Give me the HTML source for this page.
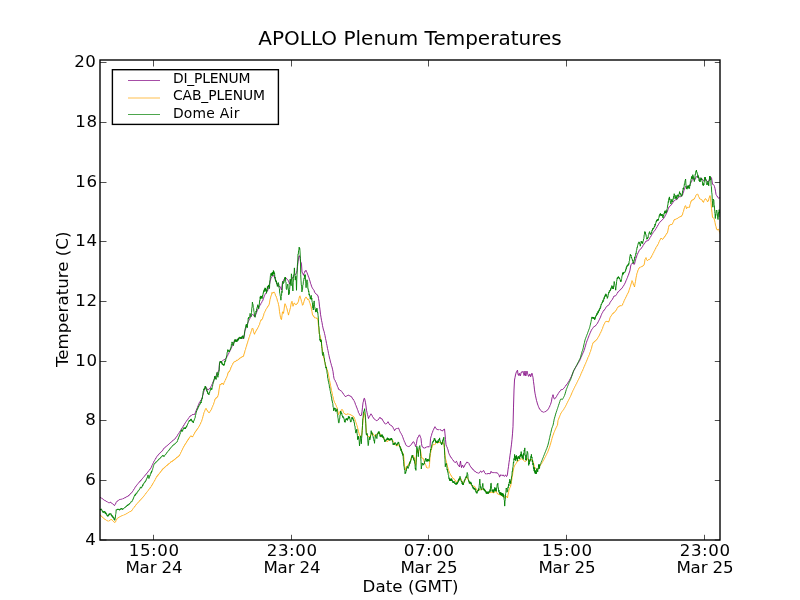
<!DOCTYPE html>
<html><head><meta charset="utf-8"><title>APOLLO Plenum Temperatures</title>
<style>
html,body{margin:0;padding:0;background:#fff;}
svg{display:block;}
text{font-family:"DejaVu Sans","Liberation Sans",sans-serif;fill:#000;}
.tk{font-size:16.67px;}.dg{letter-spacing:0.55px;}
.lg{font-size:13.9px;}
</style></head><body>
<svg width="800" height="600" viewBox="0 0 800 600">
<rect width="800" height="600" fill="#fff"/>
<defs><clipPath id="cp"><rect x="100" y="60" width="620" height="480"/></clipPath></defs>
<g clip-path="url(#cp)" fill="none" stroke-width="0.85" stroke-linejoin="round">
<path stroke="#800080" d="M100.0 496.9 L100.5 497.5 L101.0 497.6 L101.5 498.2 L102.0 498.2 L102.5 498.8 L103.0 499.1 L103.5 499.7 L104.0 499.8 L104.5 500.3 L105.0 500.3 L105.5 501.0 L106.0 500.9 L106.5 501.5 L107.0 501.5 L107.5 502.0 L108.0 502.1 L108.5 502.7 L109.0 502.6 L109.5 502.8 L110.0 502.2 L110.5 502.3 L111.0 502.4 L111.5 503.2 L112.0 503.3 L112.5 503.8 L113.0 503.9 L113.5 504.7 L114.0 504.8 L114.5 505.6 L115.0 504.7 L115.5 504.1 L116.0 502.7 L116.5 502.0 L117.0 501.2 L117.5 501.2 L118.0 500.4 L118.5 500.3 L119.0 499.8 L119.5 499.6 L120.0 499.2 L120.5 499.4 L121.0 499.0 L121.5 499.2 L122.0 498.8 L122.5 499.0 L123.0 498.5 L123.5 498.5 L124.0 497.9 L124.5 498.1 L125.0 497.4 L125.5 497.6 L126.0 496.8 L126.5 497.0 L127.0 496.4 L127.5 496.4 L128.0 495.8 L128.5 496.0 L129.0 495.0 L129.5 494.9 L130.0 494.1 L130.5 493.8 L131.0 493.0 L131.5 492.9 L132.0 492.1 L132.5 491.7 L133.0 490.6 L133.5 490.2 L134.0 489.1 L134.5 488.6 L135.0 487.5 L135.5 486.9 L136.0 485.9 L136.5 485.6 L137.0 484.6 L137.5 484.3 L138.0 483.5 L138.5 483.1 L139.0 482.3 L139.5 482.0 L140.0 481.1 L140.5 481.0 L141.0 480.0 L141.5 479.8 L142.0 478.9 L142.5 478.5 L143.0 477.7 L143.5 477.3 L144.0 476.6 L144.5 476.2 L145.0 475.3 L145.5 475.0 L146.0 474.2 L146.5 473.8 L147.0 472.9 L147.5 472.6 L148.0 471.5 L148.5 471.3 L149.0 470.4 L149.5 470.0 L150.0 469.1 L150.5 468.8 L151.0 467.8 L151.5 467.0 L152.0 465.5 L152.5 464.8 L153.0 463.4 L153.5 462.6 L154.0 461.2 L154.5 460.6 L155.0 459.4 L155.5 459.0 L156.0 457.9 L156.5 457.3 L157.0 456.3 L157.5 455.8 L158.0 454.9 L158.5 454.7 L159.0 453.8 L159.5 453.6 L160.0 452.8 L160.5 452.6 L161.0 451.8 L161.5 451.6 L162.0 450.8 L162.5 450.7 L163.0 449.9 L163.5 448.8 L164.0 448.1 L164.5 448.1 L165.0 447.3 L165.5 447.1 L166.0 446.4 L166.5 446.2 L167.0 445.6 L167.5 445.4 L168.0 444.7 L168.5 444.5 L169.0 443.8 L169.5 443.6 L170.0 442.9 L170.5 442.7 L171.0 442.0 L171.5 441.9 L172.0 441.2 L172.5 441.0 L173.0 440.2 L173.5 440.1 L174.0 439.5 L174.5 439.3 L175.0 438.5 L175.5 438.3 L176.0 437.4 L176.5 436.9 L177.0 435.8 L177.5 435.4 L178.0 434.3 L178.5 433.8 L179.0 432.8 L179.5 432.3 L180.0 431.1 L180.5 430.7 L181.0 429.7 L181.5 429.0 L182.0 428.0 L182.5 427.4 L183.0 426.3 L183.5 426.0 L184.0 424.9 L184.5 424.3 L185.0 423.1 L185.5 422.7 L186.0 421.5 L186.5 421.2 L187.0 420.3 L187.5 419.8 L188.0 418.7 L188.5 418.4 L189.0 417.4 L189.5 417.0 L190.0 416.2 L190.5 416.1 L191.0 415.3 L191.5 415.3 L192.0 414.8 L192.5 414.7 L193.0 414.0 L193.5 414.5 L194.0 414.1 L194.5 414.5 L195.0 413.3 L195.5 412.3 L196.0 410.8 L196.5 410.0 L197.0 408.3 L197.5 407.4 L198.0 405.9 L198.5 404.9 L199.0 403.4 L199.5 402.3 L200.0 401.4 L200.5 401.0 L201.0 400.0 L201.5 399.6 L202.0 398.1 L202.5 396.6 L203.0 394.2 L203.5 392.7 L204.0 390.8 L204.5 390.0 L205.0 388.6 L205.5 387.7 L206.0 387.1 L206.5 388.1 L207.0 388.7 L207.5 390.0 L208.0 389.9 L208.5 389.7 L209.0 388.8 L209.5 388.6 L210.0 387.9 L210.5 387.7 L211.0 386.5 L211.5 385.8 L212.0 384.3 L212.5 383.4 L213.0 382.0 L213.5 381.3 L214.0 379.9 L214.5 379.2 L215.0 377.8 L215.5 377.2 L216.0 375.8 L216.5 375.1 L217.0 373.8 L217.5 373.2 L218.0 371.9 L218.5 371.1 L219.0 369.9 L219.5 362.9 L220.0 362.3 L220.5 362.2 L221.0 361.5 L221.5 361.5 L222.0 361.0 L222.5 360.8 L223.0 360.3 L223.5 360.1 L224.0 359.5 L224.5 359.6 L225.0 359.0 L225.5 358.9 L226.0 358.3 L226.5 357.9 L227.0 356.6 L227.5 355.9 L228.0 354.6 L228.5 353.9 L229.0 352.7 L229.5 351.9 L230.0 350.7 L230.5 349.9 L231.0 348.5 L231.5 347.7 L232.0 346.4 L232.5 345.5 L233.0 344.2 L233.5 343.4 L234.0 341.9 L234.5 341.1 L235.0 340.5 L235.5 340.6 L236.0 340.0 L236.5 340.0 L237.0 339.4 L237.5 339.5 L238.0 338.9 L238.5 338.9 L239.0 338.3 L239.5 338.2 L240.0 337.9 L240.5 338.2 L241.0 338.0 L241.5 338.3 L242.0 338.0 L242.5 338.4 L243.0 338.0 L243.5 338.4 L244.0 336.8 L244.5 334.0 L245.0 330.4 L245.5 329.3 L246.0 327.7 L246.5 326.6 L247.0 324.8 L247.5 323.9 L248.0 322.0 L248.5 321.4 L249.0 320.1 L249.5 319.4 L250.0 318.2 L250.5 317.5 L251.0 316.4 L251.5 315.7 L252.0 314.6 L252.5 314.1 L253.0 314.6 L253.5 315.4 L254.0 315.8 L254.5 316.8 L255.0 316.3 L255.5 315.3 L256.0 313.8 L256.5 312.8 L257.0 311.2 L257.5 310.3 L258.0 308.8 L258.5 308.3 L259.0 307.0 L259.5 306.4 L260.0 305.2 L260.5 304.7 L261.0 303.4 L261.5 302.8 L262.0 301.6 L262.5 301.1 L263.0 299.9 L263.5 298.6 L264.0 296.8 L264.5 295.7 L265.0 294.6 L265.5 293.9 L266.0 292.9 L266.5 292.5 L267.0 291.5 L267.5 291.1 L268.0 289.5 L268.5 288.5 L269.0 286.9 L269.5 284.6 L270.0 281.9 L270.5 280.2 L271.0 277.8 L271.5 277.5 L272.0 276.5 L272.5 276.1 L273.0 275.6 L273.5 275.9 L274.0 275.3 L274.5 277.2 L275.0 278.4 L275.5 280.2 L276.0 281.1 L276.5 282.7 L277.0 283.9 L277.5 284.9 L278.0 285.1 L278.5 286.2 L279.0 286.0 L279.5 286.5 L280.0 286.4 L280.5 287.8 L281.0 288.7 L281.5 290.2 L282.0 285.9 L282.5 282.1 L283.0 280.9 L283.5 280.5 L284.0 279.3 L284.5 278.7 L285.0 277.9 L285.5 277.7 L286.0 277.8 L286.5 278.6 L287.0 278.9 L287.5 279.7 L288.0 280.2 L288.5 281.1 L289.0 282.4 L289.5 284.1 L290.0 282.6 L290.5 281.5 L291.0 279.9 L291.5 279.6 L292.0 278.5 L292.5 278.2 L293.0 277.0 L293.5 276.5 L294.0 275.2 L294.5 274.7 L295.0 274.2 L295.5 274.4 L296.0 273.8 L296.5 272.6 L297.0 270.8 L297.5 266.7 L298.0 261.9 L298.5 259.1 L299.0 255.9 L299.5 255.8 L300.0 257.3 L300.5 261.3 L301.0 262.2 L301.5 264.1 L302.0 271.9 L302.5 273.1 L303.0 273.9 L303.5 275.3 L304.0 273.4 L304.5 272.7 L305.0 270.9 L305.5 271.1 L306.0 270.3 L306.5 271.9 L307.0 272.6 L307.5 274.1 L308.0 275.2 L308.5 277.0 L309.0 277.8 L309.5 279.8 L310.0 281.1 L310.5 283.3 L311.0 284.4 L311.5 286.2 L312.0 287.3 L312.5 288.4 L313.0 288.7 L313.5 289.7 L314.0 290.3 L314.5 292.0 L315.0 292.8 L315.5 293.5 L316.0 293.6 L316.5 294.4 L317.0 294.4 L317.5 295.6 L318.0 295.7 L318.5 298.6 L319.0 301.4 L319.5 306.2 L320.0 309.7 L320.5 314.3 L321.0 317.2 L321.5 320.3 L322.0 322.4 L322.5 325.6 L323.0 327.9 L323.5 330.0 L324.0 331.2 L324.5 333.5 L325.0 335.5 L325.5 338.4 L326.0 340.5 L326.5 343.4 L327.0 345.5 L327.5 348.5 L328.0 350.5 L328.5 353.4 L329.0 355.5 L329.5 358.0 L330.0 359.6 L330.5 362.1 L331.0 363.5 L331.5 365.7 L332.0 367.0 L332.5 369.2 L333.0 371.5 L333.5 375.4 L334.0 378.3 L334.5 379.7 L335.0 380.2 L335.5 381.7 L336.0 382.3 L336.5 383.8 L337.0 384.9 L337.5 386.6 L338.0 387.4 L338.5 389.2 L339.0 389.1 L339.5 389.9 L340.0 390.0 L340.5 390.7 L341.0 390.6 L341.5 391.3 L342.0 391.7 L342.5 392.8 L343.0 393.1 L343.5 394.2 L344.0 394.6 L344.5 395.6 L345.0 395.9 L345.5 396.7 L346.0 396.0 L346.5 396.2 L347.0 395.5 L347.5 395.5 L348.0 395.0 L348.5 395.2 L349.0 395.1 L349.5 395.9 L350.0 395.8 L350.5 396.2 L351.0 396.2 L351.5 397.2 L352.0 397.3 L352.5 398.7 L353.0 398.9 L353.5 400.0 L354.0 400.4 L354.5 401.8 L355.0 402.8 L355.5 404.6 L356.0 405.5 L356.5 407.1 L357.0 408.0 L357.5 409.7 L358.0 410.7 L358.5 412.7 L359.0 413.2 L359.5 414.7 L360.0 415.3 L360.5 416.0 L361.0 415.0 L361.5 415.1 L362.0 411.7 L362.5 407.2 L363.0 402.8 L363.5 401.1 L364.0 398.4 L364.5 398.4 L365.0 400.2 L365.5 402.8 L366.0 406.0 L366.5 410.2 L367.0 412.4 L367.5 414.7 L368.0 416.3 L368.5 418.5 L369.0 417.2 L369.5 416.6 L370.0 415.3 L370.5 415.0 L371.0 413.8 L371.5 414.7 L372.0 415.1 L372.5 416.6 L373.0 417.2 L373.5 418.2 L374.0 418.4 L374.5 419.2 L375.0 419.4 L375.5 420.1 L376.0 420.3 L376.5 420.7 L377.0 420.0 L377.5 420.3 L378.0 419.6 L378.5 419.5 L379.0 418.3 L379.5 418.1 L380.0 417.3 L380.5 418.3 L381.0 418.1 L381.5 418.8 L382.0 418.7 L382.5 420.2 L383.0 420.4 L383.5 421.7 L384.0 422.1 L384.5 423.2 L385.0 423.4 L385.5 424.1 L386.0 423.9 L386.5 423.6 L387.0 422.9 L387.5 422.7 L388.0 421.7 L388.5 423.0 L389.0 423.3 L389.5 424.5 L390.0 424.5 L390.5 425.2 L391.0 425.1 L391.5 425.9 L392.0 426.0 L392.5 426.8 L393.0 427.2 L393.5 428.7 L394.0 429.3 L394.5 430.7 L395.0 430.0 L395.5 428.9 L396.0 428.6 L396.5 428.6 L397.0 428.1 L397.5 428.4 L398.0 427.9 L398.5 428.1 L399.0 429.1 L399.5 430.6 L400.0 431.6 L400.5 432.7 L401.0 433.3 L401.5 434.4 L402.0 435.0 L402.5 436.5 L403.0 437.7 L403.5 439.3 L404.0 440.4 L404.5 441.9 L405.0 442.6 L405.5 444.2 L406.0 445.1 L406.5 445.7 L407.0 445.7 L407.5 446.3 L408.0 446.1 L408.5 446.6 L409.0 446.5 L409.5 446.4 L410.0 445.5 L410.5 445.4 L411.0 444.6 L411.5 444.3 L412.0 443.2 L412.5 443.0 L413.0 441.9 L413.5 441.7 L414.0 442.2 L414.5 443.7 L415.0 444.4 L415.5 446.6 L416.0 445.7 L416.5 443.2 L417.0 439.8 L417.5 438.2 L418.0 437.0 L418.5 436.8 L419.0 435.3 L419.5 434.8 L420.0 435.9 L420.5 437.3 L421.0 438.4 L421.5 443.6 L422.0 446.2 L422.5 447.0 L423.0 446.9 L423.5 447.9 L424.0 447.9 L424.5 448.2 L425.0 447.5 L425.5 447.8 L426.0 446.9 L426.5 447.1 L427.0 446.6 L427.5 447.0 L428.0 446.4 L428.5 446.8 L429.0 446.6 L429.5 447.1 L430.0 446.6 L430.5 438.8 L431.0 436.7 L431.5 435.4 L432.0 433.2 L432.5 432.3 L433.0 430.6 L433.5 429.8 L434.0 428.2 L434.5 428.0 L435.0 426.7 L435.5 427.6 L436.0 428.3 L436.5 429.2 L437.0 429.0 L437.5 429.6 L438.0 429.4 L438.5 429.9 L439.0 429.5 L439.5 430.0 L440.0 429.5 L440.5 429.9 L441.0 429.8 L441.5 430.6 L442.0 430.7 L442.5 431.0 L443.0 430.0 L443.5 429.9 L444.0 429.1 L444.5 429.1 L445.0 433.9 L445.5 439.6 L446.0 444.5 L446.5 446.3 L447.0 446.9 L447.5 448.7 L448.0 449.9 L448.5 452.3 L449.0 453.6 L449.5 454.9 L450.0 455.7 L450.5 456.9 L451.0 457.1 L451.5 458.2 L452.0 458.5 L452.5 459.5 L453.0 460.0 L453.5 461.0 L454.0 461.3 L454.5 462.2 L455.0 462.6 L455.5 462.5 L456.0 461.5 L456.5 461.3 L457.0 462.4 L457.5 464.1 L458.0 464.9 L458.5 465.7 L459.0 465.8 L459.5 466.8 L460.0 463.4 L460.5 461.1 L461.0 464.8 L461.5 467.6 L462.0 466.1 L462.5 465.1 L463.0 465.9 L463.5 467.6 L464.0 467.1 L464.5 466.1 L465.0 464.5 L465.5 464.3 L466.0 463.2 L466.5 462.9 L467.0 461.9 L467.5 462.6 L468.0 462.3 L468.5 463.0 L469.0 463.5 L469.5 465.1 L470.0 465.6 L470.5 466.7 L471.0 466.9 L471.5 467.9 L472.0 468.1 L472.5 469.2 L473.0 469.2 L473.5 470.1 L474.0 470.3 L474.5 471.2 L475.0 471.1 L475.5 471.8 L476.0 471.8 L476.5 472.5 L477.0 472.5 L477.5 473.0 L478.0 472.6 L478.5 473.3 L479.0 473.0 L479.5 472.7 L480.0 471.6 L480.5 471.2 L481.0 471.2 L481.5 472.2 L482.0 472.3 L482.5 471.8 L483.0 470.9 L483.5 470.4 L484.0 470.9 L484.5 472.5 L485.0 472.9 L485.5 473.8 L486.0 473.4 L486.5 474.2 L487.0 473.7 L487.5 473.9 L488.0 473.2 L488.5 473.7 L489.0 473.0 L489.5 473.8 L490.0 473.6 L490.5 473.4 L491.0 471.4 L491.5 472.2 L492.0 471.9 L492.5 472.6 L493.0 472.3 L493.5 472.6 L494.0 472.2 L494.5 472.7 L495.0 472.3 L495.5 472.7 L496.0 472.4 L496.5 472.8 L497.0 472.5 L497.5 473.3 L498.0 473.5 L498.5 474.4 L499.0 474.9 L499.5 476.9 L500.0 476.5 L500.5 475.0 L501.0 474.6 L501.5 475.3 L502.0 475.4 L502.5 475.6 L503.0 474.8 L503.5 475.7 L504.0 475.5 L504.5 476.4 L505.0 475.5 L505.5 475.2 L506.0 475.4 L506.5 476.5 L507.0 476.1 L507.5 474.0 L508.0 469.8 L508.5 466.6 L509.0 462.5 L509.5 459.3 L510.0 455.2 L510.5 452.2 L511.0 448.0 L511.5 444.2 L512.0 439.4 L512.5 433.8 L513.0 426.5 L513.5 407.1 L514.0 390.0 L514.5 380.0 L515.0 377.5 L515.5 375.0 L516.0 373.1 L516.5 371.7 L517.0 370.8 L517.5 370.2 L518.0 374.2 L518.5 375.4 L519.0 373.6 L519.5 373.5 L520.0 376.0 L520.5 375.5 L521.0 373.0 L521.5 371.9 L522.0 372.3 L522.5 372.2 L523.0 371.3 L523.5 372.7 L524.0 375.6 L524.5 375.0 L525.0 371.0 L525.5 375.5 L526.0 376.0 L526.5 372.4 L527.0 371.1 L527.5 373.2 L528.0 374.9 L528.5 376.3 L529.0 376.1 L529.5 374.3 L530.0 374.1 L530.5 376.8 L531.0 376.2 L531.5 373.8 L532.0 373.2 L532.5 375.3 L533.0 377.5 L533.5 381.7 L534.0 385.3 L534.5 389.9 L535.0 393.2 L535.5 395.8 L536.0 398.1 L536.5 400.5 L537.0 402.1 L537.5 404.0 L538.0 405.3 L538.5 406.7 L539.0 407.8 L539.5 409.0 L540.0 409.3 L540.5 410.1 L541.0 410.5 L541.5 411.3 L542.0 411.3 L542.5 411.9 L543.0 411.7 L543.5 412.3 L544.0 412.0 L544.5 412.0 L545.0 411.5 L545.5 411.6 L546.0 411.0 L546.5 411.0 L547.0 410.2 L547.5 410.0 L548.0 409.4 L548.5 408.8 L549.0 407.6 L549.5 407.0 L550.0 405.4 L550.5 404.5 L551.0 402.9 L551.5 401.2 L552.0 397.8 L552.5 396.6 L553.0 394.7 L553.5 396.7 L554.0 398.7 L554.5 398.8 L555.0 398.6 L555.5 398.2 L556.0 397.1 L556.5 396.6 L557.0 395.5 L557.5 395.0 L558.0 393.8 L558.5 393.3 L559.0 392.2 L559.5 391.8 L560.0 391.0 L560.5 390.6 L561.0 389.6 L561.5 389.8 L562.0 389.2 L562.5 389.5 L563.0 388.9 L563.5 388.7 L564.0 387.8 L564.5 387.5 L565.0 386.5 L565.5 386.1 L566.0 385.1 L566.5 384.9 L567.0 383.9 L567.5 383.5 L568.0 382.5 L568.5 381.9 L569.0 380.7 L569.5 380.3 L570.0 379.1 L570.5 378.3 L571.0 377.0 L571.5 376.3 L572.0 374.9 L572.5 374.0 L573.0 372.4 L573.5 371.6 L574.0 370.3 L574.5 369.7 L575.0 368.4 L575.5 367.7 L576.0 366.6 L576.5 366.0 L577.0 365.0 L577.5 364.5 L578.0 363.4 L578.5 362.7 L579.0 361.7 L579.5 361.0 L580.0 359.8 L580.5 358.9 L581.0 357.4 L581.5 356.6 L582.0 355.0 L582.5 354.1 L583.0 352.8 L583.5 352.0 L584.0 350.5 L584.5 349.2 L585.0 347.3 L585.5 345.8 L586.0 343.8 L586.5 342.3 L587.0 340.8 L587.5 339.8 L588.0 338.2 L588.5 337.1 L589.0 335.6 L589.5 334.7 L590.0 333.1 L590.5 332.3 L591.0 330.9 L591.5 330.2 L592.0 329.1 L592.5 328.6 L593.0 327.6 L593.5 327.3 L594.0 326.5 L594.5 326.5 L595.0 325.8 L595.5 325.9 L596.0 325.0 L596.5 324.5 L597.0 323.6 L597.5 323.3 L598.0 322.1 L598.5 321.3 L599.0 320.2 L599.5 319.3 L600.0 318.1 L600.5 317.2 L601.0 315.7 L601.5 314.6 L602.0 313.3 L602.5 312.7 L603.0 311.3 L603.5 311.0 L604.0 310.1 L604.5 309.9 L605.0 308.8 L605.5 308.4 L606.0 307.3 L606.5 306.7 L607.0 306.0 L607.5 305.9 L608.0 305.2 L608.5 305.2 L609.0 304.6 L609.5 303.9 L610.0 302.6 L610.5 301.9 L611.0 300.9 L611.5 300.5 L612.0 299.6 L612.5 299.3 L613.0 298.0 L613.5 297.3 L614.0 296.0 L614.5 296.0 L615.0 295.7 L615.5 295.9 L616.0 295.2 L616.5 294.6 L617.0 293.4 L617.5 293.0 L618.0 291.8 L618.5 291.6 L619.0 290.9 L619.5 290.7 L620.0 289.8 L620.5 289.7 L621.0 288.8 L621.5 288.7 L622.0 287.8 L622.5 287.6 L623.0 286.5 L623.5 286.0 L624.0 284.9 L624.5 284.3 L625.0 283.1 L625.5 282.2 L626.0 280.7 L626.5 279.8 L627.0 278.4 L627.5 277.4 L628.0 275.8 L628.5 275.0 L629.0 273.0 L629.5 272.0 L630.0 270.1 L630.5 267.0 L631.0 264.6 L631.5 264.2 L632.0 263.4 L632.5 263.2 L633.0 263.0 L633.5 264.1 L634.0 264.5 L634.5 264.2 L635.0 261.9 L635.5 260.1 L636.0 258.1 L636.5 257.0 L637.0 255.0 L637.5 254.2 L638.0 252.9 L638.5 252.2 L639.0 250.9 L639.5 250.1 L640.0 249.3 L640.5 249.2 L641.0 248.4 L641.5 248.2 L642.0 247.2 L642.5 246.7 L643.0 245.5 L643.5 244.9 L644.0 243.8 L644.5 243.6 L645.0 242.5 L645.5 242.2 L646.0 241.1 L646.5 241.0 L647.0 240.6 L647.5 240.7 L648.0 240.3 L648.5 240.4 L649.0 239.2 L649.5 238.8 L650.0 237.6 L650.5 237.0 L651.0 236.0 L651.5 235.4 L652.0 234.2 L652.5 233.7 L653.0 232.7 L653.5 232.2 L654.0 231.3 L654.5 230.8 L655.0 229.9 L655.5 229.6 L656.0 228.3 L656.5 227.9 L657.0 226.6 L657.5 226.2 L658.0 224.9 L658.5 224.5 L659.0 223.3 L659.5 222.7 L660.0 221.8 L660.5 221.6 L661.0 220.9 L661.5 220.7 L662.0 219.9 L662.5 219.6 L663.0 218.8 L663.5 218.7 L664.0 217.9 L664.5 217.2 L665.0 216.1 L665.5 215.4 L666.0 214.3 L666.5 213.4 L667.0 212.1 L667.5 211.1 L668.0 209.5 L668.5 208.5 L669.0 206.8 L669.5 206.7 L670.0 205.9 L670.5 205.6 L671.0 204.8 L671.5 204.7 L672.0 203.9 L672.5 203.3 L673.0 202.1 L673.5 201.7 L674.0 200.9 L674.5 200.6 L675.0 199.9 L675.5 200.0 L676.0 199.4 L676.5 199.7 L677.0 198.9 L677.5 198.6 L678.0 197.8 L678.5 197.7 L679.0 196.9 L679.5 196.6 L680.0 196.4 L680.5 196.7 L681.0 196.4 L681.5 196.2 L682.0 195.3 L682.5 195.2 L683.0 193.4 L683.5 192.1 L684.0 190.4 L684.5 189.2 L685.0 187.6 L685.5 186.6 L686.0 186.4 L686.5 187.1 L687.0 186.8 L687.5 186.8 L688.0 186.4 L688.5 186.4 L689.0 185.8 L689.5 185.7 L690.0 184.3 L690.5 183.6 L691.0 182.3 L691.5 181.7 L692.0 180.3 L692.5 179.7 L693.0 179.4 L693.5 179.6 L694.0 179.9 L694.5 180.6 L695.0 179.4 L695.5 178.7 L696.0 177.4 L696.5 176.7 L697.0 176.0 L697.5 176.1 L698.0 176.8 L698.5 178.1 L699.0 178.2 L699.5 178.6 L700.0 178.2 L700.5 178.1 L701.0 178.2 L701.5 178.9 L702.0 178.8 L702.5 179.6 L703.0 179.9 L703.5 180.6 L704.0 179.7 L704.5 179.3 L705.0 178.4 L705.5 179.4 L706.0 179.9 L706.5 180.6 L707.0 180.9 L707.5 181.6 L708.0 181.3 L708.5 181.6 L709.0 180.1 L709.5 179.1 L710.0 178.1 L710.5 177.7 L711.0 177.4 L711.5 177.7 L712.0 180.9 L712.5 184.2 L713.0 184.1 L713.5 184.7 L714.0 185.4 L714.5 186.6 L715.0 188.5 L715.5 191.2 L716.0 194.4 L716.5 195.4 L717.0 195.9 L717.5 197.0 L718.0 197.3 L718.5 198.1 L719.0 198.3 L719.5 197.8 L720.0 197.4 L720.5 199.0"/>
<path stroke="#ffa500" d="M100.0 514.6 L100.5 515.5 L101.0 515.5 L101.5 516.4 L102.0 516.5 L102.5 517.4 L103.0 517.5 L103.5 518.2 L104.0 518.3 L104.5 519.2 L105.0 519.1 L105.5 519.7 L106.0 519.8 L106.5 520.3 L107.0 520.3 L107.5 521.0 L108.0 521.0 L108.5 521.2 L109.0 520.7 L109.5 520.7 L110.0 519.9 L110.5 519.9 L111.0 519.3 L111.5 519.6 L112.0 519.8 L112.5 520.5 L113.0 520.9 L113.5 521.6 L114.0 521.7 L114.5 522.4 L115.0 522.5 L115.5 522.0 L116.0 520.6 L116.5 520.0 L117.0 518.6 L117.5 518.3 L118.0 517.7 L118.5 517.7 L119.0 517.0 L119.5 517.1 L120.0 516.4 L120.5 516.4 L121.0 515.9 L121.5 515.9 L122.0 515.5 L122.5 515.5 L123.0 515.1 L123.5 515.2 L124.0 514.7 L124.5 514.8 L125.0 514.3 L125.5 514.3 L126.0 513.7 L126.5 513.8 L127.0 513.2 L127.5 513.2 L128.0 512.6 L128.5 512.5 L129.0 511.9 L129.5 512.0 L130.0 511.4 L130.5 511.5 L131.0 511.0 L131.5 511.0 L132.0 510.0 L132.5 509.6 L133.0 508.7 L133.5 508.1 L134.0 507.3 L134.5 507.0 L135.0 506.0 L135.5 505.6 L136.0 504.5 L136.5 504.4 L137.0 503.5 L137.5 503.2 L138.0 502.4 L138.5 502.2 L139.0 501.4 L139.5 501.1 L140.0 500.1 L140.5 500.0 L141.0 499.2 L141.5 498.9 L142.0 498.1 L142.5 497.7 L143.0 496.9 L143.5 496.7 L144.0 495.7 L144.5 495.4 L145.0 494.4 L145.5 494.0 L146.0 493.1 L146.5 492.7 L147.0 491.9 L147.5 491.4 L148.0 490.5 L148.5 490.2 L149.0 489.3 L149.5 488.8 L150.0 487.6 L150.5 487.7 L151.0 486.5 L151.5 486.1 L152.0 484.7 L152.5 484.6 L153.0 483.0 L153.5 482.6 L154.0 481.4 L154.5 481.1 L155.0 479.6 L155.5 479.2 L156.0 477.6 L156.5 477.3 L157.0 475.9 L157.5 476.1 L158.0 474.6 L158.5 474.8 L159.0 473.6 L159.5 473.4 L160.0 472.3 L160.5 472.3 L161.0 471.0 L161.5 470.9 L162.0 469.5 L162.5 469.8 L163.0 468.3 L163.5 468.6 L164.0 467.6 L164.5 467.8 L165.0 466.7 L165.5 466.8 L166.0 465.9 L166.5 465.8 L167.0 465.0 L167.5 465.3 L168.0 463.9 L168.5 464.3 L169.0 463.2 L169.5 463.4 L170.0 462.6 L170.5 462.6 L171.0 461.6 L171.5 462.1 L172.0 461.0 L172.5 461.3 L173.0 460.1 L173.5 460.5 L174.0 459.4 L174.5 459.8 L175.0 458.8 L175.5 459.0 L176.0 458.0 L176.5 458.0 L177.0 456.9 L177.5 457.3 L178.0 456.3 L178.5 456.6 L179.0 455.3 L179.5 455.6 L180.0 454.1 L180.5 453.5 L181.0 452.0 L181.5 451.5 L182.0 449.8 L182.5 449.5 L183.0 447.7 L183.5 447.4 L184.0 445.9 L184.5 445.7 L185.0 444.1 L185.5 444.1 L186.0 442.7 L186.5 442.5 L187.0 440.9 L187.5 440.9 L188.0 439.3 L188.5 439.5 L189.0 437.9 L189.5 437.8 L190.0 436.6 L190.5 436.4 L191.0 435.7 L191.5 436.6 L192.0 436.1 L192.5 437.1 L193.0 435.9 L193.5 435.4 L194.0 433.8 L194.5 433.6 L195.0 431.9 L195.5 431.8 L196.0 430.5 L196.5 430.6 L197.0 429.1 L197.5 429.1 L198.0 427.9 L198.5 427.5 L199.0 426.2 L199.5 425.9 L200.0 424.3 L200.5 423.9 L201.0 422.1 L201.5 421.6 L202.0 419.8 L202.5 418.4 L203.0 416.3 L203.5 414.7 L204.0 412.5 L204.5 411.7 L205.0 410.1 L205.5 409.1 L206.0 408.3 L206.5 409.6 L207.0 409.8 L207.5 411.2 L208.0 411.3 L208.5 412.5 L209.0 412.4 L209.5 412.6 L210.0 411.3 L210.5 410.9 L211.0 409.7 L211.5 409.4 L212.0 407.6 L212.5 406.8 L213.0 405.2 L213.5 404.5 L214.0 402.6 L214.5 401.4 L215.0 399.0 L215.5 398.9 L216.0 397.7 L216.5 398.1 L217.0 396.9 L217.5 397.0 L218.0 395.6 L218.5 393.9 L219.0 389.9 L219.5 387.1 L220.0 384.4 L220.5 385.0 L221.0 383.8 L221.5 384.1 L222.0 383.0 L222.5 383.9 L223.0 383.9 L223.5 384.6 L224.0 382.7 L224.5 382.1 L225.0 380.4 L225.5 380.0 L226.0 378.2 L226.5 377.8 L227.0 376.3 L227.5 375.2 L228.0 372.5 L228.5 372.6 L229.0 371.2 L229.5 371.5 L230.0 370.0 L230.5 369.2 L231.0 367.0 L231.5 366.8 L232.0 365.2 L232.5 364.7 L233.0 363.0 L233.5 362.8 L234.0 361.7 L234.5 361.9 L235.0 361.2 L235.5 361.5 L236.0 360.6 L236.5 360.8 L237.0 359.9 L237.5 360.4 L238.0 359.5 L238.5 359.5 L239.0 358.6 L239.5 358.9 L240.0 357.7 L240.5 358.0 L241.0 357.3 L241.5 357.4 L242.0 356.4 L242.5 356.8 L243.0 356.0 L243.5 356.3 L244.0 354.0 L244.5 353.0 L245.0 350.6 L245.5 349.5 L246.0 347.3 L246.5 346.2 L247.0 344.0 L247.5 342.9 L248.0 340.8 L248.5 339.8 L249.0 337.7 L249.5 336.7 L250.0 334.6 L250.5 333.8 L251.0 331.9 L251.5 330.7 L252.0 328.7 L252.5 328.0 L253.0 328.9 L253.5 331.6 L254.0 333.0 L254.5 334.3 L255.0 332.6 L255.5 332.3 L256.0 330.6 L256.5 330.4 L257.0 328.9 L257.5 328.8 L258.0 327.2 L258.5 326.8 L259.0 325.2 L259.5 324.6 L260.0 322.4 L260.5 321.3 L261.0 319.7 L261.5 320.1 L262.0 319.0 L262.5 318.8 L263.0 316.8 L263.5 315.9 L264.0 313.5 L264.5 312.7 L265.0 311.2 L265.5 310.8 L266.0 309.2 L266.5 308.7 L267.0 307.5 L267.5 307.3 L268.0 305.9 L268.5 305.8 L269.0 304.8 L269.5 302.9 L270.0 299.6 L270.5 297.9 L271.0 295.9 L271.5 294.9 L272.0 292.5 L272.5 293.3 L273.0 292.3 L273.5 292.6 L274.0 291.9 L274.5 293.0 L275.0 293.6 L275.5 295.6 L276.0 295.9 L276.5 297.7 L277.0 298.9 L277.5 301.3 L278.0 302.3 L278.5 304.5 L279.0 306.9 L279.5 311.6 L280.0 314.6 L280.5 317.3 L281.0 319.3 L281.5 319.5 L282.0 315.4 L282.5 311.9 L283.0 312.0 L283.5 313.4 L284.0 310.0 L284.5 306.0 L285.0 303.7 L285.5 305.2 L286.0 305.7 L286.5 307.7 L287.0 308.8 L287.5 311.3 L288.0 312.8 L288.5 315.1 L289.0 312.8 L289.5 311.6 L290.0 309.2 L290.5 307.5 L291.0 304.2 L291.5 302.3 L292.0 301.3 L292.5 304.3 L293.0 306.3 L293.5 305.3 L294.0 303.1 L294.5 303.3 L295.0 303.6 L295.5 304.6 L296.0 304.6 L296.5 304.5 L297.0 303.3 L297.5 303.4 L298.0 302.2 L298.5 301.2 L299.0 298.5 L299.5 296.5 L300.0 295.8 L300.5 298.1 L301.0 299.2 L301.5 301.7 L302.0 302.9 L302.5 305.3 L303.0 304.8 L303.5 303.5 L304.0 301.3 L304.5 300.0 L305.0 298.1 L305.5 297.7 L306.0 296.9 L306.5 298.0 L307.0 298.1 L307.5 299.5 L308.0 298.9 L308.5 299.8 L309.0 300.2 L309.5 302.2 L310.0 303.3 L310.5 305.2 L311.0 306.2 L311.5 309.5 L312.0 311.7 L312.5 314.9 L313.0 315.0 L313.5 316.4 L314.0 316.3 L314.5 317.7 L315.0 317.4 L315.5 318.2 L316.0 317.7 L316.5 318.5 L317.0 317.9 L317.5 318.7 L318.0 320.9 L318.5 326.1 L319.0 330.8 L319.5 334.4 L320.0 335.5 L320.5 338.0 L321.0 339.8 L321.5 343.9 L322.0 347.0 L322.5 351.0 L323.0 353.2 L323.5 356.8 L324.0 358.7 L324.5 361.0 L325.0 362.6 L325.5 364.9 L326.0 366.2 L326.5 368.2 L327.0 368.9 L327.5 371.1 L328.0 372.3 L328.5 375.2 L329.0 377.3 L329.5 380.2 L330.0 382.3 L330.5 385.3 L331.0 387.4 L331.5 390.5 L332.0 392.3 L332.5 395.5 L333.0 396.6 L333.5 399.4 L334.0 400.7 L334.5 402.5 L335.0 402.9 L335.5 404.3 L336.0 405.1 L336.5 406.8 L337.0 407.4 L337.5 410.1 L338.0 412.1 L338.5 414.6 L339.0 413.3 L339.5 412.6 L340.0 411.3 L340.5 411.4 L341.0 410.3 L341.5 410.2 L342.0 409.3 L342.5 410.0 L343.0 410.8 L343.5 412.7 L344.0 413.0 L344.5 413.7 L345.0 413.5 L345.5 414.5 L346.0 414.2 L346.5 414.6 L347.0 413.8 L347.5 414.1 L348.0 413.7 L348.5 414.2 L349.0 413.8 L349.5 414.3 L350.0 414.1 L350.5 414.9 L351.0 414.6 L351.5 415.4 L352.0 415.4 L352.5 415.9 L353.0 415.9 L353.5 417.0 L354.0 416.9 L354.5 418.3 L355.0 419.6 L355.5 421.3 L356.0 422.5 L356.5 424.3 L357.0 425.6 L357.5 427.7 L358.0 429.3 L358.5 431.6 L359.0 433.2 L359.5 435.1 L360.0 436.1 L360.5 437.0 L361.0 436.0 L361.5 436.0 L362.0 432.2 L362.5 426.0 L363.0 420.4 L363.5 417.0 L364.0 412.6 L364.5 414.5 L365.0 415.1 L365.5 420.6 L366.0 427.2 L366.5 433.4 L367.0 435.4 L367.5 436.1 L368.0 435.9 L368.5 436.6 L369.0 436.2 L369.5 437.1 L370.0 436.8 L370.5 436.2 L371.0 434.7 L371.5 434.2 L372.0 432.9 L372.5 433.1 L373.0 433.5 L373.5 434.7 L374.0 434.8 L374.5 436.1 L375.0 436.5 L375.5 436.6 L376.0 435.3 L376.5 434.6 L377.0 433.6 L377.5 433.8 L378.0 433.0 L378.5 432.9 L379.0 432.2 L379.5 433.2 L380.0 433.6 L380.5 434.5 L381.0 434.8 L381.5 435.7 L382.0 436.0 L382.5 437.1 L383.0 437.2 L383.5 438.4 L384.0 438.4 L384.5 439.7 L385.0 439.7 L385.5 440.6 L386.0 440.4 L386.5 441.3 L387.0 441.0 L387.5 441.6 L388.0 440.4 L388.5 440.6 L389.0 439.6 L389.5 439.6 L390.0 439.2 L390.5 439.6 L391.0 439.5 L391.5 439.9 L392.0 439.7 L392.5 440.3 L393.0 440.8 L393.5 442.1 L394.0 442.7 L394.5 444.3 L395.0 444.6 L395.5 445.1 L396.0 445.2 L396.5 445.9 L397.0 445.6 L397.5 446.1 L398.0 445.1 L398.5 445.2 L399.0 444.4 L399.5 445.4 L400.0 446.3 L400.5 447.9 L401.0 448.9 L401.5 450.8 L402.0 451.2 L402.5 452.6 L403.0 453.3 L403.5 454.6 L404.0 459.2 L404.5 466.0 L405.0 467.2 L405.5 469.8 L406.0 468.4 L406.5 467.7 L407.0 466.1 L407.5 466.0 L408.0 464.8 L408.5 464.5 L409.0 463.2 L409.5 463.1 L410.0 461.7 L410.5 460.9 L411.0 458.7 L411.5 457.6 L412.0 456.4 L412.5 456.2 L413.0 455.2 L413.5 456.4 L414.0 456.7 L414.5 457.8 L415.0 461.0 L415.5 465.4 L416.0 461.6 L416.5 454.1 L417.0 450.6 L417.5 452.4 L418.0 453.5 L418.5 453.1 L419.0 449.4 L419.5 448.3 L420.0 448.9 L420.5 450.2 L421.0 453.4 L421.5 457.8 L422.0 458.2 L422.5 458.1 L423.0 458.0 L423.5 459.9 L424.0 460.9 L424.5 462.7 L425.0 463.4 L425.5 464.6 L426.0 465.6 L426.5 467.5 L427.0 467.6 L427.5 468.1 L428.0 467.7 L428.5 468.2 L429.0 467.7 L429.5 464.5 L430.0 457.4 L430.5 453.7 L431.0 450.9 L431.5 449.0 L432.0 446.9 L432.5 446.1 L433.0 444.5 L433.5 444.3 L434.0 444.1 L434.5 444.6 L435.0 444.5 L435.5 444.1 L436.0 442.2 L436.5 442.1 L437.0 441.8 L437.5 442.6 L438.0 442.0 L438.5 442.9 L439.0 442.2 L439.5 442.8 L440.0 442.2 L440.5 442.8 L441.0 442.3 L441.5 442.8 L442.0 442.2 L442.5 442.7 L443.0 442.3 L443.5 443.9 L444.0 444.9 L444.5 449.1 L445.0 454.4 L445.5 458.8 L446.0 460.2 L446.5 462.7 L447.0 464.1 L447.5 466.7 L448.0 468.2 L448.5 470.2 L449.0 471.1 L449.5 472.9 L450.0 473.3 L450.5 474.9 L451.0 475.0 L451.5 476.5 L452.0 476.7 L452.5 477.8 L453.0 477.9 L453.5 478.7 L454.0 478.6 L454.5 479.7 L455.0 479.9 L455.5 481.2 L456.0 481.4 L456.5 482.3 L457.0 481.5 L457.5 481.4 L458.0 480.5 L458.5 480.6 L459.0 479.3 L459.5 479.2 L460.0 477.9 L460.5 478.4 L461.0 478.9 L461.5 480.5 L462.0 480.9 L462.5 482.4 L463.0 482.9 L463.5 483.4 L464.0 482.1 L464.5 481.4 L465.0 480.0 L465.5 479.6 L466.0 478.4 L466.5 478.0 L467.0 476.7 L467.5 478.2 L468.0 478.9 L468.5 480.3 L469.0 480.7 L469.5 482.4 L470.0 482.7 L470.5 484.2 L471.0 484.5 L471.5 485.2 L472.0 485.0 L472.5 485.8 L473.0 485.8 L473.5 486.4 L474.0 485.9 L474.5 486.6 L475.0 486.6 L475.5 487.5 L476.0 488.4 L476.5 490.1 L477.0 490.3 L477.5 490.4 L478.0 489.8 L478.5 490.2 L479.0 489.4 L479.5 490.1 L480.0 489.7 L480.5 490.0 L481.0 489.4 L481.5 490.0 L482.0 489.1 L482.5 489.3 L483.0 488.3 L483.5 488.6 L484.0 488.8 L484.5 490.1 L485.0 490.2 L485.5 491.2 L486.0 491.4 L486.5 492.1 L487.0 492.4 L487.5 492.9 L488.0 492.6 L488.5 493.0 L489.0 492.6 L489.5 493.1 L490.0 492.3 L490.5 492.8 L491.0 491.9 L491.5 492.4 L492.0 491.7 L492.5 492.6 L493.0 492.1 L493.5 493.0 L494.0 492.6 L494.5 492.5 L495.0 492.0 L495.5 491.9 L496.0 491.2 L496.5 492.2 L497.0 492.9 L497.5 493.9 L498.0 493.8 L498.5 494.4 L499.0 494.2 L499.5 494.8 L500.0 494.6 L500.5 495.1 L501.0 494.7 L501.5 495.5 L502.0 495.3 L502.5 496.2 L503.0 495.8 L503.5 496.6 L504.0 496.5 L504.5 497.5 L505.0 497.3 L505.5 497.1 L506.0 496.3 L506.5 496.7 L507.0 496.7 L507.5 497.9 L508.0 494.8 L508.5 492.7 L509.0 490.1 L509.5 488.8 L510.0 487.2 L510.5 486.8 L511.0 483.9 L511.5 481.4 L512.0 477.8 L512.5 475.2 L513.0 471.8 L513.5 469.0 L514.0 467.1 L514.5 466.0 L515.0 464.6 L515.5 464.4 L516.0 463.6 L516.5 463.0 L517.0 461.4 L517.5 461.4 L518.0 460.7 L518.5 461.0 L519.0 460.1 L519.5 460.0 L520.0 459.2 L520.5 459.2 L521.0 458.8 L521.5 458.8 L522.0 459.0 L522.5 459.3 L523.0 459.6 L523.5 460.3 L524.0 460.7 L524.5 461.3 L525.0 461.2 L525.5 461.4 L526.0 461.1 L526.5 460.1 L527.0 458.7 L527.5 458.6 L528.0 459.2 L528.5 460.4 L529.0 460.4 L529.5 460.4 L530.0 460.0 L530.5 460.1 L531.0 459.6 L531.5 459.7 L532.0 459.4 L532.5 460.8 L533.0 461.5 L533.5 463.2 L534.0 464.9 L534.5 466.6 L535.0 467.3 L535.5 468.6 L536.0 469.2 L536.5 469.6 L537.0 469.3 L537.5 469.6 L538.0 468.5 L538.5 468.1 L539.0 467.1 L539.5 466.7 L540.0 465.8 L540.5 465.4 L541.0 464.3 L541.5 463.8 L542.0 462.8 L542.5 462.2 L543.0 461.1 L543.5 460.5 L544.0 459.4 L544.5 458.6 L545.0 457.4 L545.5 456.6 L546.0 455.4 L546.5 454.6 L547.0 453.3 L547.5 452.7 L548.0 451.2 L548.5 450.0 L549.0 448.6 L549.5 447.4 L550.0 445.6 L550.5 444.1 L551.0 442.1 L551.5 440.6 L552.0 438.4 L552.5 436.9 L553.0 435.3 L553.5 434.0 L554.0 432.5 L554.5 431.5 L555.0 430.1 L555.5 429.2 L556.0 427.9 L556.5 427.1 L557.0 425.8 L557.5 425.2 L558.0 420.4 L558.5 419.3 L559.0 417.9 L559.5 416.8 L560.0 415.4 L560.5 414.4 L561.0 412.9 L561.5 412.5 L562.0 411.6 L562.5 411.1 L563.0 410.3 L563.5 409.8 L564.0 408.7 L564.5 408.2 L565.0 407.1 L565.5 406.4 L566.0 405.2 L566.5 404.4 L567.0 403.1 L567.5 402.4 L568.0 401.1 L568.5 400.4 L569.0 399.2 L569.5 398.4 L570.0 397.2 L570.5 396.4 L571.0 395.1 L571.5 394.0 L572.0 392.7 L572.5 391.8 L573.0 390.4 L573.5 389.7 L574.0 388.4 L574.5 387.6 L575.0 386.3 L575.5 385.7 L576.0 384.3 L576.5 383.7 L577.0 382.4 L577.5 381.6 L578.0 380.3 L578.5 379.6 L579.0 378.4 L579.5 377.7 L580.0 376.1 L580.5 375.5 L581.0 373.7 L581.5 373.1 L582.0 371.5 L582.5 371.0 L583.0 369.3 L583.5 368.5 L584.0 366.8 L584.5 366.2 L585.0 364.6 L585.5 363.8 L586.0 362.3 L586.5 361.4 L587.0 359.9 L587.5 359.1 L588.0 357.3 L588.5 356.8 L589.0 355.1 L589.5 354.4 L590.0 352.3 L590.5 351.5 L591.0 349.6 L591.5 348.4 L592.0 345.9 L592.5 344.5 L593.0 342.7 L593.5 342.6 L594.0 341.7 L594.5 341.9 L595.0 340.8 L595.5 340.9 L596.0 340.1 L596.5 339.9 L597.0 338.9 L597.5 338.7 L598.0 337.5 L598.5 336.9 L599.0 335.5 L599.5 335.3 L600.0 333.6 L600.5 333.1 L601.0 331.7 L601.5 331.1 L602.0 329.3 L602.5 328.6 L603.0 326.7 L603.5 325.8 L604.0 324.1 L604.5 323.7 L605.0 322.5 L605.5 322.0 L606.0 321.1 L606.5 321.4 L607.0 321.0 L607.5 321.6 L608.0 321.2 L608.5 322.2 L609.0 321.0 L609.5 319.9 L610.0 317.7 L610.5 317.1 L611.0 315.8 L611.5 315.5 L612.0 314.3 L612.5 314.1 L613.0 313.1 L613.5 313.3 L614.0 312.1 L614.5 312.3 L615.0 311.4 L615.5 311.2 L616.0 310.1 L616.5 309.9 L617.0 308.5 L617.5 308.0 L618.0 306.8 L618.5 306.8 L619.0 306.1 L619.5 306.3 L620.0 305.3 L620.5 305.7 L621.0 305.4 L621.5 305.8 L622.0 305.2 L622.5 305.0 L623.0 303.2 L623.5 302.7 L624.0 300.9 L624.5 300.2 L625.0 298.7 L625.5 298.3 L626.0 296.6 L626.5 296.3 L627.0 294.7 L627.5 294.2 L628.0 292.6 L628.5 292.4 L629.0 290.3 L629.5 289.1 L630.0 287.3 L630.5 286.2 L631.0 284.0 L631.5 282.9 L632.0 280.6 L632.5 281.4 L633.0 282.8 L633.5 285.0 L634.0 285.4 L634.5 287.0 L635.0 283.8 L635.5 281.4 L636.0 277.9 L636.5 275.7 L637.0 273.1 L637.5 272.2 L638.0 270.0 L638.5 269.4 L639.0 268.0 L639.5 267.8 L640.0 266.9 L640.5 267.2 L641.0 266.7 L641.5 266.8 L642.0 266.2 L642.5 266.4 L643.0 265.4 L643.5 265.6 L644.0 265.0 L644.5 262.9 L645.0 259.4 L645.5 258.7 L646.0 257.6 L646.5 259.5 L647.0 260.4 L647.5 260.5 L648.0 259.8 L648.5 259.8 L649.0 259.2 L649.5 259.4 L650.0 258.9 L650.5 258.4 L651.0 256.9 L651.5 256.9 L652.0 255.4 L652.5 254.9 L653.0 253.4 L653.5 252.9 L654.0 251.5 L654.5 250.9 L655.0 249.3 L655.5 249.0 L656.0 247.5 L656.5 246.9 L657.0 245.6 L657.5 245.6 L658.0 244.1 L658.5 243.5 L659.0 241.8 L659.5 241.3 L660.0 239.6 L660.5 239.4 L661.0 238.0 L661.5 238.5 L662.0 238.4 L662.5 239.5 L663.0 239.0 L663.5 238.5 L664.0 237.2 L664.5 237.1 L665.0 235.9 L665.5 235.8 L666.0 234.3 L666.5 234.1 L667.0 232.9 L667.5 232.7 L668.0 230.1 L668.5 227.7 L669.0 225.4 L669.5 225.6 L670.0 224.6 L670.5 224.7 L671.0 224.2 L671.5 224.9 L672.0 224.0 L672.5 223.8 L673.0 222.5 L673.5 221.7 L674.0 219.9 L674.5 219.9 L675.0 219.0 L675.5 219.4 L676.0 218.7 L676.5 219.0 L677.0 218.4 L677.5 218.5 L678.0 217.7 L678.5 217.7 L679.0 217.1 L679.5 217.2 L680.0 216.4 L680.5 216.7 L681.0 216.0 L681.5 216.3 L682.0 214.9 L682.5 214.8 L683.0 212.3 L683.5 211.4 L684.0 209.1 L684.5 207.7 L685.0 206.1 L685.5 205.6 L686.0 206.8 L686.5 208.7 L687.0 207.6 L687.5 207.6 L688.0 206.9 L688.5 207.4 L689.0 207.7 L689.5 207.3 L690.0 204.6 L690.5 203.5 L691.0 201.1 L691.5 201.1 L692.0 199.8 L692.5 200.2 L693.0 199.3 L693.5 199.7 L694.0 198.6 L694.5 198.8 L695.0 197.2 L695.5 196.8 L696.0 195.1 L696.5 194.6 L697.0 194.0 L697.5 194.1 L698.0 194.6 L698.5 196.4 L699.0 196.9 L699.5 198.6 L700.0 198.5 L700.5 199.3 L701.0 199.1 L701.5 199.7 L702.0 199.8 L702.5 201.4 L703.0 201.3 L703.5 202.4 L704.0 200.7 L704.5 200.2 L705.0 198.9 L705.5 198.7 L706.0 199.1 L706.5 200.1 L707.0 200.4 L707.5 201.8 L708.0 200.6 L708.5 200.8 L709.0 198.1 L709.5 197.1 L710.0 195.6 L710.5 198.2 L711.0 202.7 L711.5 208.4 L712.0 212.7 L712.5 217.3 L713.0 217.4 L713.5 218.2 L714.0 218.6 L714.5 220.1 L715.0 222.4 L715.5 225.1 L716.0 226.6 L716.5 229.1 L717.0 229.2 L717.5 230.2 L718.0 229.1 L718.5 229.3 L719.0 230.2 L719.5 232.1 L720.0 232.6 L720.5 234.4"/>
<path stroke="#008000" stroke-width="0.9" d="M100.0 509.5 L100.3 510.2 L100.6 509.0 L100.9 509.8 L101.2 508.8 L101.5 509.7 L101.8 509.6 L102.1 511.1 L102.4 510.8 L102.7 512.2 L103.0 512.0 L103.3 512.4 L103.6 511.4 L103.9 512.7 L104.2 511.4 L104.5 511.9 L104.8 511.2 L105.1 513.4 L105.4 512.2 L105.7 513.8 L106.0 512.8 L106.3 514.4 L106.6 513.8 L106.9 515.5 L107.2 515.2 L107.5 516.3 L107.8 515.3 L108.1 516.3 L108.4 514.8 L108.7 515.5 L109.0 513.8 L109.3 514.8 L109.6 513.6 L109.9 514.3 L110.2 513.7 L110.5 514.1 L110.8 513.5 L111.1 515.2 L111.4 514.6 L111.7 516.2 L112.0 515.4 L112.3 516.7 L112.6 515.8 L112.9 517.7 L113.2 516.8 L113.5 518.2 L113.8 517.5 L114.1 519.6 L114.4 518.5 L114.7 520.3 L115.0 519.5 L115.3 518.2 L115.6 514.7 L115.9 513.4 L116.2 509.8 L116.5 510.2 L116.8 509.6 L117.1 510.0 L117.4 509.1 L117.7 509.7 L118.0 508.8 L118.3 509.6 L118.6 509.2 L118.9 510.0 L119.2 509.5 L119.5 510.3 L119.8 509.3 L120.1 509.9 L120.4 508.8 L120.7 509.2 L121.0 508.4 L121.3 509.0 L121.6 508.4 L121.9 509.4 L122.2 508.7 L122.5 509.5 L122.8 508.8 L123.1 509.2 L123.4 508.5 L123.7 508.6 L124.0 508.0 L124.3 508.0 L124.6 507.6 L124.9 507.9 L125.2 507.1 L125.5 507.2 L125.8 506.5 L126.1 506.9 L126.4 506.1 L126.7 506.3 L127.0 505.4 L127.3 506.0 L127.6 504.8 L127.9 505.4 L128.2 504.5 L128.5 504.8 L128.8 504.0 L129.1 504.5 L129.4 503.3 L129.7 503.7 L130.0 503.1 L130.3 503.1 L130.6 502.5 L130.9 502.6 L131.2 501.7 L131.5 502.0 L131.8 501.3 L132.1 501.4 L132.4 500.4 L132.7 500.3 L133.0 498.8 L133.3 498.9 L133.6 497.5 L133.9 497.5 L134.2 496.1 L134.5 495.9 L134.8 494.9 L135.1 495.6 L135.4 494.0 L135.7 494.8 L136.0 493.5 L136.3 493.8 L136.6 492.9 L136.9 493.2 L137.2 492.1 L137.5 492.1 L137.8 491.3 L138.1 491.4 L138.4 490.4 L138.7 490.5 L139.0 489.8 L139.3 489.8 L139.6 489.0 L139.9 488.9 L140.2 487.5 L140.5 487.4 L140.8 486.9 L141.1 488.2 L141.4 487.7 L141.7 487.7 L142.0 486.4 L142.3 486.4 L142.6 484.9 L142.9 485.6 L143.2 483.9 L143.5 484.2 L143.8 483.3 L144.1 483.3 L144.4 482.5 L144.7 482.8 L145.0 481.6 L145.3 481.9 L145.6 480.9 L145.9 481.1 L146.2 479.4 L146.5 479.5 L146.8 478.2 L147.1 478.2 L147.4 476.9 L147.7 477.1 L148.0 474.9 L148.3 477.2 L148.6 477.6 L148.9 478.5 L149.2 477.2 L149.5 477.3 L149.8 475.5 L150.1 475.8 L150.4 474.2 L150.7 474.1 L151.0 472.5 L151.3 473.1 L151.6 471.0 L151.9 471.5 L152.2 470.0 L152.5 469.7 L152.8 468.3 L153.1 467.6 L153.4 466.2 L153.7 465.4 L154.0 464.2 L154.3 464.1 L154.6 463.5 L154.9 463.6 L155.2 462.8 L155.5 462.9 L155.8 462.2 L156.1 462.4 L156.4 461.6 L156.7 461.7 L157.0 461.1 L157.3 461.1 L157.6 460.5 L157.9 460.5 L158.2 459.8 L158.5 460.0 L158.8 459.2 L159.1 459.3 L159.4 458.6 L159.7 458.8 L160.0 458.2 L160.3 458.2 L160.6 457.4 L160.9 457.6 L161.2 456.8 L161.5 456.9 L161.8 456.3 L162.1 456.4 L162.4 455.7 L162.7 455.8 L163.0 455.0 L163.3 456.0 L163.6 456.3 L163.9 456.8 L164.2 455.9 L164.5 455.9 L164.8 455.3 L165.1 455.1 L165.4 454.4 L165.7 454.5 L166.0 453.8 L166.3 453.7 L166.6 452.8 L166.9 452.9 L167.2 452.2 L167.5 452.1 L167.8 451.5 L168.1 451.2 L168.4 450.5 L168.7 450.6 L169.0 449.8 L169.3 449.9 L169.6 449.1 L169.9 449.2 L170.2 448.3 L170.5 448.3 L170.8 447.7 L171.1 447.6 L171.4 447.0 L171.7 446.9 L172.0 446.2 L172.3 446.2 L172.6 445.6 L172.9 445.7 L173.2 445.0 L173.5 445.1 L173.8 444.5 L174.1 444.7 L174.4 444.0 L174.7 444.2 L175.0 443.5 L175.3 443.6 L175.6 443.0 L175.9 443.0 L176.2 442.5 L176.5 442.5 L176.8 442.1 L177.1 442.0 L177.4 440.8 L177.7 440.3 L178.0 438.8 L178.3 439.0 L178.6 437.4 L178.9 437.4 L179.2 435.7 L179.5 435.9 L179.8 434.3 L180.1 434.2 L180.4 432.7 L180.7 432.4 L181.0 430.8 L181.3 431.0 L181.6 429.7 L181.9 431.4 L182.2 430.7 L182.5 431.3 L182.8 429.6 L183.1 429.8 L183.4 428.2 L183.7 428.4 L184.0 427.5 L184.3 428.5 L184.6 427.8 L184.9 429.0 L185.2 427.9 L185.5 428.8 L185.8 427.0 L186.1 427.5 L186.4 426.3 L186.7 427.0 L187.0 425.1 L187.3 425.2 L187.6 424.1 L187.9 424.0 L188.2 422.7 L188.5 422.4 L188.8 421.3 L189.1 421.4 L189.4 420.2 L189.7 421.2 L190.0 420.1 L190.3 420.7 L190.6 419.4 L190.9 420.0 L191.2 418.9 L191.5 420.6 L191.8 420.1 L192.1 421.5 L192.4 420.9 L192.7 422.1 L193.0 421.5 L193.3 422.9 L193.6 421.3 L193.9 421.1 L194.2 419.6 L194.5 419.6 L194.8 418.3 L195.1 417.9 L195.4 415.7 L195.7 415.0 L196.0 413.0 L196.3 412.5 L196.6 410.9 L196.9 410.6 L197.2 409.1 L197.5 409.3 L197.8 408.0 L198.1 408.2 L198.4 406.2 L198.7 406.8 L199.0 405.4 L199.3 405.4 L199.6 404.4 L199.9 404.7 L200.2 403.1 L200.5 403.4 L200.8 401.9 L201.1 403.0 L201.4 399.8 L201.7 400.3 L202.0 398.4 L202.3 398.8 L202.6 395.4 L202.9 394.7 L203.2 391.1 L203.5 390.8 L203.8 388.9 L204.1 389.8 L204.4 388.2 L204.7 389.0 L205.0 386.4 L205.3 387.6 L205.6 386.2 L205.9 388.5 L206.2 388.1 L206.5 390.5 L206.8 389.7 L207.1 391.8 L207.4 391.1 L207.7 393.6 L208.0 392.6 L208.3 394.1 L208.6 393.6 L208.9 394.9 L209.2 393.2 L209.5 393.0 L209.8 391.4 L210.1 391.2 L210.4 389.3 L210.7 389.4 L211.0 388.0 L211.3 389.7 L211.6 388.6 L211.9 389.4 L212.2 387.1 L212.5 386.5 L212.8 384.4 L213.1 383.8 L213.4 381.2 L213.7 381.5 L214.0 379.2 L214.3 379.2 L214.6 376.3 L214.9 377.3 L215.2 376.5 L215.5 378.7 L215.8 377.9 L216.1 379.5 L216.4 376.1 L216.7 375.7 L217.0 372.4 L217.3 375.4 L217.6 375.2 L217.9 377.3 L218.2 374.0 L218.5 374.5 L218.8 371.6 L219.1 371.5 L219.4 365.7 L219.7 362.3 L220.0 361.4 L220.3 362.6 L220.6 361.0 L220.9 361.7 L221.2 361.3 L221.5 363.3 L221.8 361.8 L222.1 364.3 L222.4 363.5 L222.7 364.8 L223.0 364.0 L223.3 365.3 L223.6 364.4 L223.9 365.6 L224.2 363.8 L224.5 364.5 L224.8 361.2 L225.1 362.1 L225.4 359.9 L225.7 360.5 L226.0 357.8 L226.3 357.8 L226.6 355.5 L226.9 354.9 L227.2 352.1 L227.5 352.0 L227.8 349.6 L228.1 351.1 L228.4 350.4 L228.7 351.4 L229.0 350.9 L229.3 352.0 L229.6 350.5 L229.9 350.5 L230.2 349.1 L230.5 349.5 L230.8 347.5 L231.1 347.7 L231.4 344.6 L231.7 345.1 L232.0 341.9 L232.3 343.0 L232.6 342.6 L232.9 345.1 L233.2 344.6 L233.5 345.6 L233.8 342.8 L234.1 343.1 L234.4 340.5 L234.7 341.4 L235.0 339.3 L235.3 341.4 L235.6 339.7 L235.9 341.7 L236.2 340.4 L236.5 341.7 L236.8 340.2 L237.1 341.6 L237.4 339.2 L237.7 340.8 L238.0 338.6 L238.3 340.2 L238.6 337.8 L238.9 339.2 L239.2 337.5 L239.5 337.8 L239.8 336.9 L240.1 338.0 L240.4 337.2 L240.7 338.8 L241.0 337.1 L241.3 338.8 L241.6 336.8 L241.9 338.2 L242.2 336.3 L242.5 337.0 L242.8 335.6 L243.1 338.0 L243.4 336.7 L243.7 338.6 L244.0 335.8 L244.3 334.9 L244.6 331.6 L244.9 330.9 L245.2 328.6 L245.5 328.1 L245.8 325.3 L246.1 325.4 L246.4 324.1 L246.7 327.1 L247.0 326.1 L247.3 327.7 L247.6 323.8 L247.9 322.8 L248.2 318.4 L248.5 319.1 L248.8 317.0 L249.1 317.8 L249.4 316.7 L249.7 316.5 L250.0 313.5 L250.3 314.0 L250.6 314.2 L250.9 316.8 L251.2 314.7 L251.5 312.5 L251.8 308.1 L252.1 306.9 L252.4 302.1 L252.7 303.8 L253.0 304.4 L253.3 307.7 L253.6 308.2 L253.9 311.4 L254.2 312.3 L254.5 316.2 L254.8 316.3 L255.1 317.3 L255.4 314.6 L255.7 314.2 L256.0 311.1 L256.3 312.0 L256.6 308.9 L256.9 308.9 L257.2 306.8 L257.5 307.1 L257.8 304.7 L258.1 307.2 L258.4 306.3 L258.7 308.8 L259.0 304.8 L259.3 304.8 L259.6 300.5 L259.9 300.8 L260.2 296.8 L260.5 298.9 L260.8 295.9 L261.1 298.0 L261.4 296.1 L261.7 298.5 L262.0 298.6 L262.3 298.6 L262.6 295.0 L262.9 295.3 L263.2 292.8 L263.5 293.2 L263.8 290.5 L264.1 291.9 L264.4 289.0 L264.7 290.6 L265.0 287.8 L265.3 290.1 L265.6 288.0 L265.9 291.3 L266.2 289.3 L266.5 293.3 L266.8 290.3 L267.1 290.7 L267.4 286.7 L267.7 288.7 L268.0 285.9 L268.3 287.0 L268.6 284.9 L268.9 286.5 L269.2 286.0 L269.5 288.6 L269.8 280.8 L270.1 279.4 L270.4 275.9 L270.7 276.3 L271.0 273.4 L271.3 275.0 L271.6 273.4 L271.9 275.9 L272.2 272.5 L272.5 275.5 L272.8 272.1 L273.1 274.5 L273.4 270.5 L273.7 273.6 L274.0 271.6 L274.3 274.0 L274.6 273.4 L274.9 278.2 L275.2 277.2 L275.5 281.0 L275.8 279.9 L276.1 282.1 L276.4 281.0 L276.7 284.1 L277.0 283.5 L277.3 286.3 L277.6 285.0 L277.9 286.4 L278.2 282.5 L278.5 284.2 L278.8 284.1 L279.1 288.2 L279.4 288.5 L279.7 293.0 L280.0 293.9 L280.3 296.4 L280.6 296.5 L280.9 300.2 L281.2 296.4 L281.5 295.9 L281.8 291.3 L282.1 292.5 L282.4 286.0 L282.7 283.1 L283.0 281.2 L283.3 283.6 L283.6 282.7 L283.9 282.9 L284.2 280.5 L284.5 280.7 L284.8 277.5 L285.1 279.1 L285.4 277.1 L285.7 281.7 L286.0 282.0 L286.3 288.9 L286.6 289.5 L286.9 289.4 L287.2 286.4 L287.5 285.8 L287.8 284.1 L288.1 287.3 L288.4 288.6 L288.7 294.9 L289.0 292.5 L289.3 293.5 L289.6 289.5 L289.9 285.9 L290.2 279.1 L290.5 283.6 L290.8 283.5 L291.1 285.7 L291.4 273.8 L291.7 275.6 L292.0 278.9 L292.3 285.0 L292.6 287.0 L292.9 291.0 L293.2 282.8 L293.5 278.4 L293.8 274.2 L294.1 274.0 L294.4 267.9 L294.7 273.4 L295.0 275.0 L295.3 280.1 L295.6 277.0 L295.9 276.2 L296.2 279.5 L296.5 290.3 L296.8 279.1 L297.1 274.1 L297.4 265.0 L297.7 262.1 L298.0 254.0 L298.3 254.1 L298.6 250.4 L298.9 250.2 L299.2 247.1 L299.5 249.2 L299.8 248.6 L300.1 253.0 L300.4 258.5 L300.7 274.7 L301.0 280.2 L301.3 284.9 L301.6 286.1 L301.9 291.9 L302.2 290.1 L302.5 289.8 L302.8 285.1 L303.1 284.9 L303.4 281.2 L303.7 281.0 L304.0 278.4 L304.3 278.9 L304.6 274.9 L304.9 276.7 L305.2 274.6 L305.5 279.0 L305.8 283.3 L306.1 287.7 L306.4 282.3 L306.7 282.4 L307.0 279.8 L307.3 281.8 L307.6 282.3 L307.9 288.9 L308.2 288.8 L308.5 291.7 L308.8 290.9 L309.1 295.1 L309.4 293.9 L309.7 296.2 L310.0 296.2 L310.3 299.2 L310.6 297.1 L310.9 297.2 L311.2 295.3 L311.5 299.4 L311.8 298.1 L312.1 301.8 L312.4 302.6 L312.7 307.5 L313.0 307.0 L313.3 310.0 L313.6 304.4 L313.9 302.4 L314.2 300.9 L314.5 306.7 L314.8 306.9 L315.1 309.6 L315.4 309.4 L315.7 312.1 L316.0 309.6 L316.3 311.7 L316.6 308.4 L316.9 309.0 L317.2 308.5 L317.5 313.0 L317.8 312.7 L318.1 315.7 L318.4 319.1 L318.7 325.7 L319.0 327.2 L319.3 334.0 L319.6 334.4 L319.9 340.3 L320.2 339.0 L320.5 341.8 L320.8 339.6 L321.1 341.2 L321.4 340.6 L321.7 346.5 L322.0 348.6 L322.3 353.1 L322.6 354.9 L322.9 355.6 L323.2 352.3 L323.5 353.6 L323.8 354.8 L324.1 357.9 L324.4 358.1 L324.7 361.6 L325.0 362.0 L325.3 365.4 L325.6 365.4 L325.9 368.1 L326.2 367.0 L326.5 369.8 L326.8 370.1 L327.1 373.3 L327.4 374.2 L327.7 378.2 L328.0 378.8 L328.3 381.3 L328.6 381.1 L328.9 384.0 L329.2 384.6 L329.5 387.8 L329.8 387.4 L330.1 390.3 L330.4 391.4 L330.7 393.7 L331.0 393.9 L331.3 397.0 L331.6 397.0 L331.9 400.6 L332.2 400.4 L332.5 403.0 L332.8 403.2 L333.1 407.1 L333.4 407.6 L333.7 410.9 L334.0 408.8 L334.3 409.2 L334.6 407.8 L334.9 409.3 L335.2 408.2 L335.5 411.3 L335.8 410.4 L336.1 411.4 L336.4 410.3 L336.7 411.1 L337.0 408.8 L337.3 413.6 L337.6 414.2 L337.9 417.7 L338.2 418.9 L338.5 422.6 L338.8 423.1 L339.1 422.6 L339.4 419.1 L339.7 419.0 L340.0 415.0 L340.3 414.9 L340.6 411.0 L340.9 411.8 L341.2 411.8 L341.5 414.0 L341.8 413.4 L342.1 415.8 L342.4 415.7 L342.7 417.4 L343.0 416.3 L343.3 417.4 L343.6 417.1 L343.9 418.9 L344.2 418.9 L344.5 421.9 L344.8 420.9 L345.1 422.4 L345.4 420.0 L345.7 420.1 L346.0 418.7 L346.3 419.9 L346.6 418.4 L346.9 420.1 L347.2 419.1 L347.5 420.4 L347.8 418.2 L348.1 419.1 L348.4 416.5 L348.7 417.8 L349.0 416.3 L349.3 418.0 L349.6 417.0 L349.9 419.4 L350.2 419.4 L350.5 422.1 L350.8 421.8 L351.1 421.9 L351.4 419.6 L351.7 419.3 L352.0 417.1 L352.3 419.0 L352.6 417.6 L352.9 419.4 L353.2 418.7 L353.5 420.9 L353.8 420.3 L354.1 422.8 L354.4 422.7 L354.7 425.9 L355.0 426.0 L355.3 429.6 L355.6 430.7 L355.9 433.1 L356.2 430.2 L356.5 431.5 L356.8 429.2 L357.1 433.3 L357.4 435.6 L357.7 439.7 L358.0 437.4 L358.3 438.8 L358.6 436.2 L358.9 439.2 L359.2 440.9 L359.5 445.9 L359.8 442.3 L360.1 441.4 L360.4 436.8 L360.7 435.8 L361.0 438.4 L361.3 443.8 L361.6 438.6 L361.9 435.6 L362.2 430.6 L362.5 425.4 L362.8 418.5 L363.1 417.3 L363.4 413.1 L363.7 411.9 L364.0 410.6 L364.3 410.8 L364.6 408.7 L364.9 411.3 L365.2 413.7 L365.5 417.9 L365.8 423.7 L366.1 432.7 L366.4 434.9 L366.7 434.9 L367.0 433.3 L367.3 434.0 L367.6 436.6 L367.9 442.1 L368.2 445.6 L368.5 444.3 L368.8 440.2 L369.1 438.8 L369.4 437.1 L369.7 440.0 L370.0 439.5 L370.3 438.7 L370.6 435.3 L370.9 434.5 L371.2 430.7 L371.5 433.6 L371.8 432.4 L372.1 434.1 L372.4 433.5 L372.7 435.7 L373.0 435.9 L373.3 438.1 L373.6 437.7 L373.9 440.7 L374.2 440.3 L374.5 443.3 L374.8 439.5 L375.1 438.5 L375.4 435.8 L375.7 434.8 L376.0 434.4 L376.3 437.7 L376.6 437.5 L376.9 438.6 L377.2 435.7 L377.5 435.5 L377.8 432.9 L378.1 433.4 L378.4 431.8 L378.7 433.3 L379.0 431.4 L379.3 433.6 L379.6 433.0 L379.9 436.3 L380.2 435.8 L380.5 436.5 L380.8 434.9 L381.1 437.1 L381.4 435.0 L381.7 435.9 L382.0 434.4 L382.3 436.6 L382.6 435.3 L382.9 437.7 L383.2 436.3 L383.5 438.1 L383.8 437.5 L384.1 439.7 L384.4 439.4 L384.7 441.8 L385.0 440.5 L385.3 441.5 L385.6 440.3 L385.9 440.9 L386.2 439.2 L386.5 440.1 L386.8 438.7 L387.1 439.2 L387.4 437.7 L387.7 439.9 L388.0 438.7 L388.3 440.0 L388.6 438.4 L388.9 439.9 L389.2 438.8 L389.5 440.4 L389.8 439.0 L390.1 440.4 L390.4 438.6 L390.7 439.7 L391.0 438.4 L391.3 439.6 L391.6 438.0 L391.9 440.0 L392.2 439.6 L392.5 442.2 L392.8 442.4 L393.1 444.7 L393.4 443.7 L393.7 444.7 L394.0 443.0 L394.3 444.8 L394.6 442.9 L394.9 443.8 L395.2 442.5 L395.5 443.3 L395.8 443.1 L396.1 444.6 L396.4 444.0 L396.7 445.5 L397.0 444.5 L397.3 444.9 L397.6 443.2 L397.9 443.8 L398.2 441.9 L398.5 443.2 L398.8 442.6 L399.1 444.6 L399.4 444.7 L399.7 447.1 L400.0 446.3 L400.3 448.5 L400.6 447.5 L400.9 450.6 L401.2 448.9 L401.5 451.6 L401.8 450.9 L402.1 453.6 L402.4 452.4 L402.7 455.4 L403.0 453.8 L403.3 459.1 L403.6 461.2 L403.9 466.2 L404.2 466.9 L404.5 470.0 L404.8 470.3 L405.1 473.8 L405.4 472.2 L405.7 473.1 L406.0 470.6 L406.3 471.1 L406.6 468.1 L406.9 468.3 L407.2 466.3 L407.5 467.7 L407.8 466.7 L408.1 468.5 L408.4 467.0 L408.7 466.7 L409.0 464.7 L409.3 465.4 L409.6 462.4 L409.9 463.8 L410.2 461.4 L410.5 462.2 L410.8 459.9 L411.1 460.1 L411.4 457.3 L411.7 457.7 L412.0 455.4 L412.3 457.2 L412.6 455.2 L412.9 457.7 L413.2 457.1 L413.5 459.6 L413.8 458.2 L414.1 460.7 L414.4 459.9 L414.7 463.6 L415.0 464.5 L415.3 469.0 L415.6 468.1 L415.9 470.4 L416.2 462.8 L416.5 454.9 L416.8 446.2 L417.1 448.7 L417.4 448.5 L417.7 452.1 L418.0 453.1 L418.3 456.7 L418.6 451.3 L418.9 449.8 L419.2 446.6 L419.5 446.5 L419.8 445.6 L420.1 448.7 L420.4 449.8 L420.7 456.6 L421.0 461.7 L421.3 469.0 L421.6 466.1 L421.9 465.7 L422.2 463.0 L422.5 464.0 L422.8 463.9 L423.1 465.1 L423.4 464.5 L423.7 465.1 L424.0 463.3 L424.3 463.9 L424.6 461.4 L424.9 461.8 L425.2 459.3 L425.5 459.9 L425.8 458.0 L426.1 460.5 L426.4 459.6 L426.7 461.4 L427.0 460.6 L427.3 461.5 L427.6 459.1 L427.9 460.9 L428.2 459.2 L428.5 460.6 L428.8 460.0 L429.1 461.4 L429.4 458.1 L429.7 457.2 L430.0 453.3 L430.3 452.7 L430.6 449.3 L430.9 450.0 L431.2 447.0 L431.5 447.4 L431.8 444.8 L432.1 444.8 L432.4 442.2 L432.7 442.6 L433.0 441.2 L433.3 442.1 L433.6 440.2 L433.9 440.8 L434.2 438.3 L434.5 439.5 L434.8 438.4 L435.1 440.6 L435.4 439.8 L435.7 442.4 L436.0 440.8 L436.3 442.5 L436.6 441.7 L436.9 443.0 L437.2 442.0 L437.5 443.2 L437.8 440.6 L438.1 442.4 L438.4 440.8 L438.7 441.8 L439.0 439.0 L439.3 440.2 L439.6 437.9 L439.9 440.3 L440.2 440.4 L440.5 442.5 L440.8 442.8 L441.1 443.8 L441.4 443.1 L441.7 445.0 L442.0 442.4 L442.3 443.6 L442.6 440.5 L442.9 441.1 L443.2 438.9 L443.5 439.7 L443.8 437.2 L444.1 442.8 L444.4 447.5 L444.7 455.3 L445.0 459.7 L445.3 466.8 L445.6 464.3 L445.9 464.9 L446.2 463.3 L446.5 465.3 L446.8 465.8 L447.1 470.1 L447.4 469.3 L447.7 472.2 L448.0 471.8 L448.3 474.9 L448.6 475.2 L448.9 478.5 L449.2 477.8 L449.5 480.4 L449.8 478.6 L450.1 481.0 L450.4 479.2 L450.7 481.0 L451.0 478.7 L451.3 480.7 L451.6 478.6 L451.9 480.8 L452.2 479.8 L452.5 482.1 L452.8 481.7 L453.1 483.0 L453.4 481.6 L453.7 483.0 L454.0 481.2 L454.3 481.9 L454.6 481.8 L454.9 484.0 L455.2 482.8 L455.5 484.4 L455.8 484.2 L456.1 484.5 L456.4 482.9 L456.7 484.5 L457.0 482.3 L457.3 483.9 L457.6 482.0 L457.9 482.6 L458.2 480.5 L458.5 481.6 L458.8 478.8 L459.1 480.5 L459.4 478.4 L459.7 479.3 L460.0 476.3 L460.3 478.5 L460.6 478.4 L460.9 480.7 L461.2 480.7 L461.5 482.0 L461.8 481.1 L462.1 483.9 L462.4 482.4 L462.7 484.8 L463.0 483.2 L463.3 484.9 L463.6 483.1 L463.9 483.0 L464.2 480.7 L464.5 481.3 L464.8 479.3 L465.1 479.7 L465.4 477.8 L465.7 478.0 L466.0 476.6 L466.3 477.8 L466.6 475.7 L466.9 475.8 L467.2 472.5 L467.5 473.7 L467.8 474.5 L468.1 479.3 L468.4 479.5 L468.7 481.4 L469.0 480.8 L469.3 483.3 L469.6 481.8 L469.9 483.6 L470.2 481.9 L470.5 483.4 L470.8 481.9 L471.1 484.1 L471.4 483.2 L471.7 485.3 L472.0 485.2 L472.3 486.5 L472.6 485.5 L472.9 488.3 L473.2 487.2 L473.5 488.6 L473.8 487.5 L474.1 489.5 L474.4 488.1 L474.7 489.5 L475.0 488.3 L475.3 490.3 L475.6 489.5 L475.9 492.2 L476.2 491.3 L476.5 493.2 L476.8 492.4 L477.1 493.3 L477.4 491.3 L477.7 491.7 L478.0 489.9 L478.3 491.0 L478.6 488.5 L478.9 490.2 L479.2 485.5 L479.5 483.1 L479.8 479.1 L480.1 483.8 L480.4 485.2 L480.7 488.3 L481.0 487.6 L481.3 489.8 L481.6 489.8 L481.9 489.7 L482.2 486.1 L482.5 486.1 L482.8 483.4 L483.1 487.4 L483.4 487.8 L483.7 489.9 L484.0 488.7 L484.3 490.8 L484.6 489.1 L484.9 491.3 L485.2 490.2 L485.5 491.8 L485.8 491.3 L486.1 493.3 L486.4 491.7 L486.7 493.8 L487.0 492.3 L487.3 493.5 L487.6 491.7 L487.9 493.6 L488.2 492.4 L488.5 493.5 L488.8 491.5 L489.1 492.7 L489.4 491.3 L489.7 491.9 L490.0 489.5 L490.3 491.5 L490.6 485.7 L490.9 483.3 L491.2 483.2 L491.5 488.3 L491.8 489.4 L492.1 491.3 L492.4 490.0 L492.7 491.6 L493.0 489.4 L493.3 492.6 L493.6 490.2 L493.9 492.0 L494.2 489.3 L494.5 490.3 L494.8 487.3 L495.1 490.9 L495.4 488.2 L495.7 490.9 L496.0 489.6 L496.3 491.4 L496.6 487.6 L496.9 486.8 L497.2 484.4 L497.5 484.9 L497.8 483.2 L498.1 488.2 L498.4 487.8 L498.7 491.6 L499.0 490.1 L499.3 493.3 L499.6 492.2 L499.9 494.3 L500.2 492.4 L500.5 495.1 L500.8 492.2 L501.1 495.0 L501.4 493.0 L501.7 495.7 L502.0 493.5 L502.3 495.3 L502.6 493.3 L502.9 496.5 L503.2 493.7 L503.5 497.2 L503.8 494.9 L504.1 499.4 L504.4 500.3 L504.7 506.1 L505.0 501.4 L505.3 499.4 L505.6 493.5 L505.9 492.7 L506.2 488.1 L506.5 488.9 L506.8 488.2 L507.1 492.2 L507.4 490.7 L507.7 490.9 L508.0 486.9 L508.3 487.7 L508.6 484.1 L508.9 485.9 L509.2 482.3 L509.5 483.0 L509.8 479.2 L510.1 482.3 L510.4 481.0 L510.7 483.8 L511.0 479.9 L511.3 479.8 L511.6 476.2 L511.9 476.3 L512.2 471.1 L512.5 471.5 L512.8 467.3 L513.1 466.4 L513.4 462.3 L513.7 463.1 L514.0 458.5 L514.3 460.0 L514.6 454.4 L514.9 457.6 L515.2 456.0 L515.5 460.6 L515.8 457.4 L516.1 459.2 L516.4 455.3 L516.7 458.8 L517.0 457.1 L517.3 461.1 L517.6 457.9 L517.9 458.7 L518.2 456.2 L518.5 457.5 L518.8 456.4 L519.1 458.8 L519.4 456.8 L519.7 459.0 L520.0 455.2 L520.3 456.5 L520.6 454.1 L520.9 456.3 L521.2 451.6 L521.5 455.9 L521.8 454.2 L522.1 457.9 L522.4 455.4 L522.7 458.4 L523.0 457.7 L523.3 459.4 L523.6 453.3 L523.9 454.9 L524.2 450.0 L524.5 451.1 L524.8 447.9 L525.1 455.3 L525.4 455.0 L525.7 460.1 L526.0 458.6 L526.3 460.3 L526.6 454.6 L526.9 454.7 L527.2 451.3 L527.5 452.6 L527.8 452.5 L528.1 458.5 L528.4 458.7 L528.7 465.4 L529.0 462.9 L529.3 463.9 L529.6 460.5 L529.9 461.5 L530.2 459.1 L530.5 460.4 L530.8 456.5 L531.1 457.4 L531.4 454.3 L531.7 457.7 L532.0 457.0 L532.3 462.0 L532.6 460.3 L532.9 464.9 L533.2 463.1 L533.5 468.7 L533.8 467.3 L534.1 471.1 L534.4 467.5 L534.7 472.5 L535.0 470.5 L535.3 473.9 L535.6 470.7 L535.9 473.4 L536.2 471.9 L536.5 473.7 L536.8 468.5 L537.1 471.3 L537.4 470.1 L537.7 471.9 L538.0 468.4 L538.3 469.1 L538.6 464.6 L538.9 467.0 L539.2 464.4 L539.5 468.6 L539.8 465.0 L540.1 465.2 L540.4 464.2 L540.7 463.7 L541.0 462.7 L541.3 462.2 L541.6 461.2 L541.9 460.7 L542.2 459.8 L542.5 459.2 L542.8 458.2 L543.1 457.7 L543.4 456.7 L543.7 456.2 L544.0 455.2 L544.3 454.6 L544.6 453.8 L544.9 453.1 L545.2 452.2 L545.5 451.6 L545.8 450.7 L546.1 450.1 L546.4 449.2 L546.7 448.7 L547.0 447.7 L547.3 447.0 L547.6 445.9 L547.9 445.2 L548.2 444.0 L548.5 442.9 L548.8 441.4 L549.1 440.3 L549.4 438.8 L549.7 437.6 L550.0 436.1 L550.3 435.0 L550.6 433.5 L550.9 432.4 L551.2 431.0 L551.5 429.8 L551.8 428.3 L552.1 427.7 L552.4 426.7 L552.7 426.2 L553.0 425.2 L553.3 424.1 L553.6 422.3 L553.9 420.9 L554.2 419.1 L554.5 418.2 L554.8 417.0 L555.1 416.2 L555.4 414.9 L555.7 414.0 L556.0 412.9 L556.3 412.2 L556.6 411.1 L556.9 410.4 L557.2 409.3 L557.5 408.6 L557.8 407.5 L558.1 406.8 L558.4 405.7 L558.7 405.0 L559.0 403.9 L559.3 403.2 L559.6 402.1 L559.9 401.4 L560.2 400.3 L560.5 399.9 L560.8 399.1 L561.1 398.9 L561.4 398.9 L561.7 399.3 L562.0 399.3 L562.3 399.5 L562.6 398.9 L562.9 398.6 L563.2 397.9 L563.5 397.6 L563.8 396.9 L564.1 396.4 L564.4 395.7 L564.7 395.2 L565.0 394.0 L565.3 393.2 L565.6 391.9 L565.9 391.1 L566.2 389.8 L566.5 389.2 L566.8 388.3 L567.1 387.7 L567.4 386.8 L567.7 386.2 L568.0 385.3 L568.3 384.7 L568.6 383.8 L568.9 383.2 L569.2 382.3 L569.5 381.8 L569.8 381.1 L570.1 380.6 L570.4 379.8 L570.7 379.5 L571.0 378.4 L571.3 377.7 L571.6 376.6 L571.9 375.9 L572.2 374.8 L572.5 374.1 L572.8 373.0 L573.1 372.3 L573.4 371.2 L573.7 370.5 L574.0 369.7 L574.3 369.5 L574.6 368.8 L574.9 368.4 L575.2 367.8 L575.5 367.4 L575.8 366.7 L576.1 366.4 L576.4 365.6 L576.7 365.2 L577.0 364.5 L577.3 364.0 L577.6 363.2 L577.9 362.8 L578.2 362.0 L578.5 361.6 L578.8 360.8 L579.1 360.3 L579.4 359.6 L579.7 359.2 L580.0 358.5 L580.3 357.9 L580.6 357.1 L580.9 356.0 L581.2 354.7 L581.5 353.6 L581.8 352.3 L582.1 351.4 L582.4 350.7 L582.7 350.1 L583.0 348.8 L583.3 347.6 L583.6 346.1 L583.9 344.9 L584.2 343.5 L584.5 342.3 L584.8 340.8 L585.1 339.9 L585.4 338.8 L585.7 338.2 L586.0 337.2 L586.3 336.6 L586.6 335.6 L586.9 335.1 L587.2 334.1 L587.5 333.5 L587.8 332.4 L588.1 331.8 L588.4 330.9 L588.7 330.2 L589.0 329.2 L589.3 328.6 L589.6 327.5 L589.9 326.5 L590.2 325.2 L590.5 324.1 L590.8 322.7 L591.1 321.4 L591.4 319.5 L591.7 317.9 L592.0 316.9 L592.3 318.3 L592.6 317.2 L592.9 318.4 L593.2 317.0 L593.5 318.5 L593.8 317.3 L594.1 318.9 L594.4 318.1 L594.7 319.9 L595.0 317.3 L595.3 318.5 L595.6 316.2 L595.9 316.6 L596.2 315.1 L596.5 315.9 L596.8 313.5 L597.1 314.8 L597.4 312.8 L597.7 313.6 L598.0 311.3 L598.3 312.8 L598.6 310.6 L598.9 311.2 L599.2 309.5 L599.5 310.5 L599.8 308.3 L600.1 309.0 L600.4 306.6 L600.7 307.4 L601.0 304.6 L601.3 305.1 L601.6 303.6 L601.9 303.7 L602.2 302.0 L602.5 302.7 L602.8 300.5 L603.1 301.8 L603.4 299.7 L603.7 300.2 L604.0 297.6 L604.3 298.7 L604.6 296.3 L604.9 296.9 L605.2 294.9 L605.5 296.2 L605.8 293.8 L606.1 295.5 L606.4 294.7 L606.7 296.3 L607.0 296.0 L607.3 298.4 L607.6 297.2 L607.9 297.3 L608.2 294.2 L608.5 294.4 L608.8 292.0 L609.1 292.7 L609.4 290.8 L609.7 291.4 L610.0 290.1 L610.3 290.9 L610.6 288.6 L610.9 289.4 L611.2 287.7 L611.5 288.2 L611.8 285.6 L612.1 286.7 L612.4 286.3 L612.7 288.8 L613.0 287.5 L613.3 289.0 L613.6 285.5 L613.9 284.7 L614.2 281.5 L614.5 283.3 L614.8 284.1 L615.1 287.0 L615.4 287.3 L615.7 290.2 L616.0 286.9 L616.3 285.3 L616.6 281.5 L616.9 280.0 L617.2 277.9 L617.5 278.8 L617.8 277.2 L618.1 277.9 L618.4 276.5 L618.7 278.1 L619.0 277.3 L619.3 278.8 L619.6 278.0 L619.9 279.5 L620.2 279.7 L620.5 281.6 L620.8 280.1 L621.1 281.6 L621.4 278.8 L621.7 278.5 L622.0 275.6 L622.3 275.6 L622.6 272.8 L622.9 274.5 L623.2 272.4 L623.5 274.1 L623.8 272.3 L624.1 272.7 L624.4 271.9 L624.7 272.4 L625.0 271.6 L625.3 271.7 L625.6 269.6 L625.9 270.2 L626.2 267.6 L626.5 268.6 L626.8 265.9 L627.1 266.6 L627.4 265.0 L627.7 265.7 L628.0 264.4 L628.3 265.4 L628.6 263.5 L628.9 264.3 L629.2 261.2 L629.5 260.8 L629.8 256.7 L630.1 255.8 L630.4 254.3 L630.7 255.9 L631.0 255.1 L631.3 258.0 L631.6 257.3 L631.9 258.9 L632.2 259.0 L632.5 260.9 L632.8 260.3 L633.1 263.3 L633.4 262.2 L633.7 262.8 L634.0 260.1 L634.3 260.3 L634.6 257.2 L634.9 258.0 L635.2 255.8 L635.5 255.6 L635.8 253.4 L636.1 253.8 L636.4 250.4 L636.7 250.2 L637.0 247.6 L637.3 247.9 L637.6 245.4 L637.9 244.9 L638.2 243.2 L638.5 243.4 L638.8 241.9 L639.1 242.3 L639.4 242.2 L639.7 244.2 L640.0 244.4 L640.3 246.2 L640.6 243.6 L640.9 243.4 L641.2 241.2 L641.5 242.4 L641.8 241.5 L642.1 243.5 L642.4 242.1 L642.7 243.5 L643.0 241.0 L643.3 240.9 L643.6 238.8 L643.9 238.5 L644.2 234.6 L644.5 234.4 L644.8 231.5 L645.1 233.3 L645.4 232.4 L645.7 234.7 L646.0 234.4 L646.3 236.8 L646.6 237.3 L646.9 239.3 L647.2 238.2 L647.5 239.0 L647.8 237.2 L648.1 237.7 L648.4 235.2 L648.7 234.9 L649.0 232.7 L649.3 232.5 L649.6 231.6 L649.9 233.5 L650.2 233.1 L650.5 234.5 L650.8 233.6 L651.1 234.2 L651.4 232.0 L651.7 232.5 L652.0 230.2 L652.3 230.7 L652.6 228.6 L652.9 229.5 L653.2 228.2 L653.5 229.0 L653.8 227.7 L654.1 227.8 L654.4 226.1 L654.7 227.0 L655.0 224.0 L655.3 225.4 L655.6 223.3 L655.9 223.3 L656.2 221.1 L656.5 221.6 L656.8 219.9 L657.1 221.1 L657.4 219.3 L657.7 220.5 L658.0 219.2 L658.3 220.3 L658.6 218.4 L658.9 217.9 L659.2 215.7 L659.5 216.3 L659.8 214.2 L660.1 214.9 L660.4 213.3 L660.7 215.6 L661.0 214.6 L661.3 215.6 L661.6 214.4 L661.9 215.7 L662.2 214.1 L662.5 216.8 L662.8 216.9 L663.1 218.0 L663.4 215.4 L663.7 216.0 L664.0 213.4 L664.3 213.8 L664.6 211.5 L664.9 212.8 L665.2 210.6 L665.5 213.2 L665.8 212.2 L666.1 213.1 L666.4 210.7 L666.7 211.6 L667.0 208.9 L667.3 208.5 L667.6 205.2 L667.9 205.3 L668.2 201.7 L668.5 202.4 L668.8 198.7 L669.1 199.2 L669.4 196.9 L669.7 199.7 L670.0 198.9 L670.3 201.8 L670.6 201.5 L670.9 204.0 L671.2 201.6 L671.5 201.6 L671.8 199.3 L672.1 201.8 L672.4 201.4 L672.7 201.9 L673.0 198.7 L673.3 198.9 L673.6 196.3 L673.9 196.9 L674.2 193.7 L674.5 195.2 L674.8 195.3 L675.1 198.9 L675.4 197.0 L675.7 197.7 L676.0 195.2 L676.3 198.1 L676.6 196.8 L676.9 199.3 L677.2 195.9 L677.5 195.9 L677.8 194.7 L678.1 196.5 L678.4 195.4 L678.7 196.5 L679.0 194.0 L679.3 193.4 L679.6 191.6 L679.9 194.0 L680.2 193.1 L680.5 194.4 L680.8 193.8 L681.1 196.2 L681.4 195.5 L681.7 196.3 L682.0 194.1 L682.3 194.4 L682.6 190.9 L682.9 190.9 L683.2 188.0 L683.5 189.3 L683.8 186.9 L684.1 186.5 L684.4 183.9 L684.7 184.3 L685.0 181.1 L685.3 180.2 L685.6 179.0 L685.9 183.8 L686.2 186.1 L686.5 188.8 L686.8 187.7 L687.1 189.2 L687.4 186.6 L687.7 187.7 L688.0 185.5 L688.3 187.6 L688.6 185.7 L688.9 188.5 L689.2 187.8 L689.5 188.4 L689.8 185.3 L690.1 185.8 L690.4 181.8 L690.7 182.2 L691.0 179.3 L691.3 178.8 L691.6 176.4 L691.9 179.2 L692.2 177.3 L692.5 178.5 L692.8 174.7 L693.1 176.7 L693.4 176.4 L693.7 178.9 L694.0 177.9 L694.3 181.6 L694.6 179.6 L694.9 178.3 L695.2 174.0 L695.5 174.4 L695.8 171.6 L696.1 172.0 L696.4 170.0 L696.7 172.1 L697.0 172.0 L697.3 174.0 L697.6 174.0 L697.9 177.7 L698.2 175.5 L698.5 178.0 L698.8 177.1 L699.1 180.8 L699.4 179.4 L699.7 181.9 L700.0 181.5 L700.3 181.8 L700.6 178.8 L700.9 179.5 L701.2 177.8 L701.5 179.8 L701.8 178.8 L702.1 181.6 L702.4 181.6 L702.7 184.8 L703.0 184.2 L703.3 185.8 L703.6 183.5 L703.9 184.9 L704.2 181.1 L704.5 181.4 L704.8 177.0 L705.1 179.1 L705.4 177.3 L705.7 180.3 L706.0 179.5 L706.3 183.4 L706.6 183.5 L706.9 184.9 L707.2 183.6 L707.5 184.4 L707.8 181.4 L708.1 182.7 L708.4 182.7 L708.7 185.8 L709.0 181.1 L709.3 181.0 L709.6 176.1 L709.9 178.7 L710.2 176.3 L710.5 180.0 L710.8 178.9 L711.1 185.8 L711.4 186.6 L711.7 192.2 L712.0 194.1 L712.3 200.5 L712.6 203.9 L712.9 207.2 L713.2 199.0 L713.5 199.8 L713.8 199.9 L714.1 204.8 L714.4 205.6 L714.7 211.6 L715.0 213.7 L715.3 218.5 L715.6 214.5 L715.9 215.3 L716.2 210.3 L716.5 210.6 L716.8 210.1 L717.1 213.3 L717.4 213.4 L717.7 218.7 L718.0 219.5 L718.3 217.4 L718.6 211.9 L718.9 211.6 L719.2 209.6 L719.5 212.8 L719.8 211.8 L720.1 217.0"/>
</g>
<rect x="100" y="60" width="620" height="480" fill="none" stroke="#000" stroke-width="1.39"/>
<path d="M153.5 540v-5.2M153.5 60v6.5M291.5 540v-5.2M291.5 60v6.5M428.5 540v-5.2M428.5 60v6.5M566.5 540v-5.2M566.5 60v6.5M704.5 540v-5.2M704.5 60v6.5M100 540.0h6.5M720 540.0h-5.2M100 480.5h6.5M720 480.5h-5.2M100 420.5h6.5M720 420.5h-5.2M100 361.5h6.5M720 361.5h-5.2M100 301.5h6.5M720 301.5h-5.2M100 241.5h6.5M720 241.5h-5.2M100 182.5h6.5M720 182.5h-5.2M100 122.5h6.5M720 122.5h-5.2M100 62.5h6.5M720 62.5h-5.2" stroke="#000" stroke-width="0.69" fill="none"/>
<text class="tk" text-anchor="middle" x="153.5" y="556"><tspan class="dg" x="154.2">15:00</tspan><tspan x="153.9" dy="17" letter-spacing="-0.15">Mar 24</tspan></text>
<text class="tk" text-anchor="middle" x="291.5" y="556"><tspan class="dg" x="292.2">23:00</tspan><tspan x="291.9" dy="17" letter-spacing="-0.15">Mar 24</tspan></text>
<text class="tk" text-anchor="middle" x="428.5" y="556"><tspan class="dg" x="429.2">07:00</tspan><tspan x="428.9" dy="17" letter-spacing="-0.15">Mar 25</tspan></text>
<text class="tk" text-anchor="middle" x="566.5" y="556"><tspan class="dg" x="567.2">15:00</tspan><tspan x="566.9" dy="17" letter-spacing="-0.15">Mar 25</tspan></text>
<text class="tk" text-anchor="middle" x="704.5" y="556"><tspan class="dg" x="705.2">23:00</tspan><tspan x="704.9" dy="17" letter-spacing="-0.15">Mar 25</tspan></text>
<text class="tk dg" text-anchor="end" x="96.5" y="545.0">4</text>
<text class="tk dg" text-anchor="end" x="96.5" y="485.0">6</text>
<text class="tk dg" text-anchor="end" x="96.5" y="425.0">8</text>
<text class="tk dg" text-anchor="end" x="97.6" y="366.0">10</text>
<text class="tk dg" text-anchor="end" x="97.6" y="306.0">12</text>
<text class="tk dg" text-anchor="end" x="97.6" y="246.0">14</text>
<text class="tk dg" text-anchor="end" x="97.6" y="187.0">16</text>
<text class="tk dg" text-anchor="end" x="97.6" y="127.0">18</text>
<text class="tk dg" text-anchor="end" x="96.5" y="67.0">20</text>
<text x="410" y="45" text-anchor="middle" font-size="20">APOLLO Plenum Temperatures</text>
<text x="410.6" y="592" text-anchor="middle" class="tk" letter-spacing="0.05">Date (GMT)</text>
<text transform="translate(68,299.3) rotate(-90)" text-anchor="middle" class="tk">Temperature (C)</text>
<rect x="112.4" y="69.7" width="166" height="54.7" fill="#fff" stroke="#000" stroke-width="1.39"/>
<path d="M128 80.5H160" stroke="#800080" stroke-width="0.7"/>
<text class="lg" x="172.9" y="83.2" letter-spacing="-0.2">DI_PLENUM</text>
<path d="M128 98.0H160" stroke="#ffa500" stroke-width="0.7"/>
<text class="lg" x="172.9" y="100.3" letter-spacing="-0.1">CAB_PLENUM</text>
<path d="M128 114.5H160" stroke="#008000" stroke-width="0.7"/>
<text class="lg" x="172.9" y="117.6" letter-spacing="0.25">Dome Air</text>
</svg>
</body></html>
